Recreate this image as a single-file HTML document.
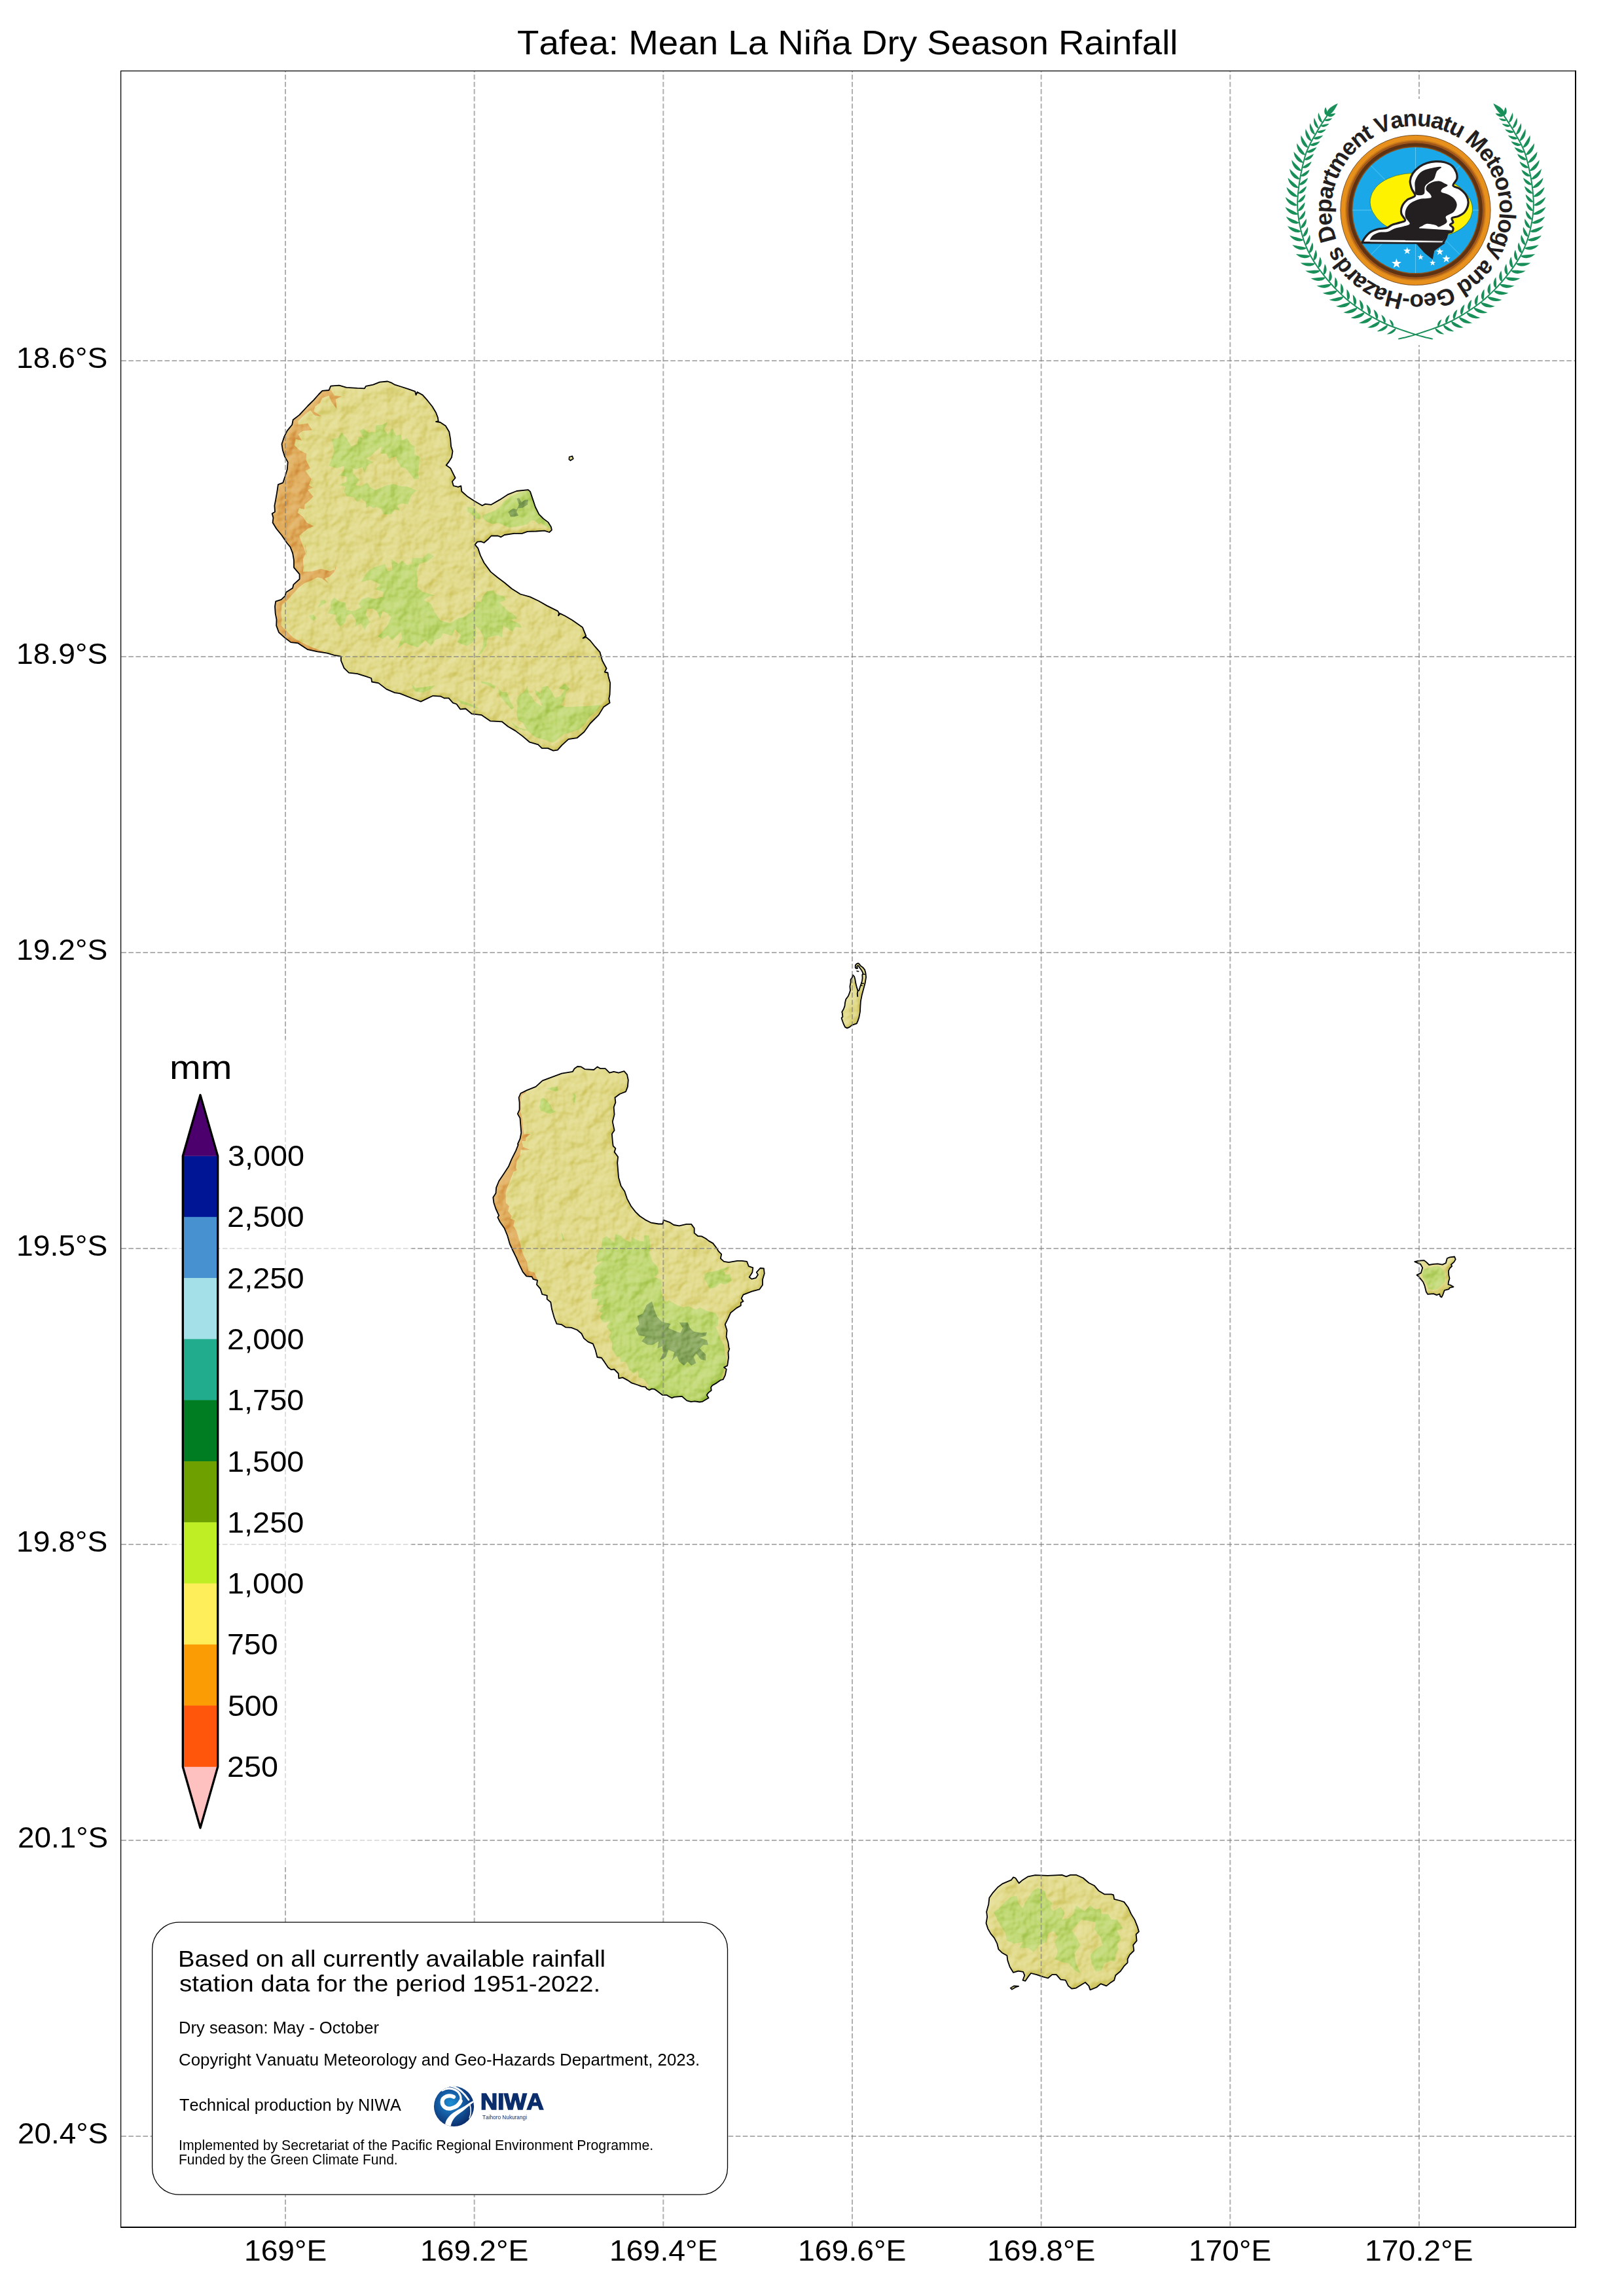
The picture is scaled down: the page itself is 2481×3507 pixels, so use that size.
<!DOCTYPE html>
<html><head><meta charset="utf-8"><title>Tafea: Mean La Ni&ntilde;a Dry Season Rainfall</title>
<style>
html,body{margin:0;padding:0;background:#fff;}
body{width:2481px;height:3507px;position:relative;overflow:hidden;font-family:"Liberation Sans",sans-serif;font-kerning:none;}
.t{position:absolute;white-space:pre;transform-origin:0 0;color:#000;}
svg{position:absolute;left:0;top:0;}
</style></head><body>
<svg width="2481" height="3507" viewBox="0 0 2481 3507" >
<defs>
<filter id="hs" x="-5%" y="-5%" width="110%" height="110%" color-interpolation-filters="sRGB">
<feTurbulence type="fractalNoise" baseFrequency="0.04" numOctaves="3" seed="7" result="n"/>
<feGaussianBlur in="SourceAlpha" stdDeviation="3.5" result="b"/>
<feComposite in="n" in2="b" operator="arithmetic" k1="0" k2="0.6" k3="0.4" k4="0" result="h"/>
<feDiffuseLighting in="h" surfaceScale="8" diffuseConstant="0.72" lighting-color="#ffffff" result="lit"><feDistantLight azimuth="225" elevation="45"/></feDiffuseLighting>
<feBlend in="lit" in2="SourceGraphic" mode="soft-light" result="bl"/>
<feComposite in="bl" in2="SourceGraphic" operator="in"/>
</filter>
<clipPath id="cE"><polygon points="430.5,817.7 422.2,807.5 416.6,798.3 417.5,790.9 415.7,784.4 420.0,781.7 419.4,772.4 421.2,763.2 423.1,752.1 424.9,740.1 432.3,737.3 436.0,726.3 438.8,717.0 439.7,705.9 435.1,697.6 431.8,687.5 430.5,678.2 434.2,667.1 438.8,657.9 446.2,648.7 447.7,641.3 457.3,633.9 470.2,620.0 479.4,610.8 486.8,602.5 492.4,596.9 502.5,596.0 505.3,589.6 518.2,588.6 529.3,591.8 545.9,592.9 557.0,593.3 558.9,589.9 570.0,587.7 580.1,583.6 592.1,582.5 598.6,584.9 603.2,587.7 612.4,590.5 623.5,594.2 634.2,597.9 635.5,603.4 637.4,598.8 645.7,603.4 653.1,611.7 660.5,621.0 666.0,630.2 668.8,637.6 669.7,643.1 666.0,644.1 672.5,645.0 680.8,650.5 686.3,659.8 688.2,670.8 689.1,681.9 691.5,689.3 690.0,698.5 685.4,705.9 681.7,710.6 688.2,715.2 691.9,722.6 695.6,730.0 690.9,735.5 692.8,742.0 700.0,743.8 704.3,742.2 705.3,750.5 713.6,757.9 724.7,765.3 736.7,772.3 741.3,769.9 750.5,770.8 763.4,763.4 776.4,755.1 789.3,750.0 806.9,748.1 810.0,750.9 814.2,763.4 817.9,774.5 823.5,785.6 830.0,792.1 837.3,797.6 842.0,805.0 842.9,809.6 839.2,813.0 831.8,810.6 818.9,811.5 805.9,811.8 797.6,814.8 785.6,814.8 770.8,817.0 765.3,820.3 760.7,818.5 750.5,818.5 745.9,823.5 739.4,829.0 734.8,827.2 729.3,827.7 725.6,831.8 730.2,837.3 733.9,848.4 739.4,859.5 749.6,873.4 759.8,881.7 770.8,890.0 781.9,899.2 794.9,907.5 809.6,911.6 822.6,917.7 835.5,925.1 852.1,933.4 854.0,936.2 853.0,940.4 855.8,937.1 863.2,940.8 874.3,947.3 890.0,958.3 895.2,971.1 890.6,974.8 895.2,973.0 901.7,978.5 909.1,987.7 916.5,996.1 920.1,1009.0 926.6,1021.0 923.8,1026.5 928.5,1027.5 929.4,1033.0 932.2,1043.2 931.6,1060.7 930.3,1067.2 931.6,1073.6 922.0,1080.1 914.6,1092.1 901.7,1105.0 892.4,1118.0 881.4,1127.2 868.4,1129.1 858.3,1138.3 851.8,1145.7 845.3,1146.6 837.0,1142.9 827.8,1142.9 822.2,1137.4 809.3,1133.7 798.2,1124.4 787.1,1116.1 776.1,1109.7 766.8,1102.3 749.3,1101.4 735.4,1092.1 720.6,1090.3 711.4,1082.5 703.1,1083.3 697.5,1075.5 692.0,1073.6 685.5,1066.3 680.0,1066.3 678.9,1066.5 673.4,1063.7 661.4,1062.8 642.9,1071.6 629.1,1066.5 610.6,1059.1 603.2,1058.1 590.3,1052.6 578.3,1043.4 568.1,1041.5 567.2,1036.0 558.9,1033.2 545.9,1029.1 533.0,1027.7 525.6,1020.3 521.0,1009.2 521.0,1002.7 510.8,1000.9 499.8,997.7 485.0,995.3 470.2,992.2 455.4,982.4 444.3,981.1 435.1,974.1 425.9,965.8 422.2,955.6 422.5,946.4 420.7,937.1 420.0,926.1 421.2,918.7 429.6,915.9 435.5,910.4 436.9,904.8 447.1,898.3 448.4,892.8 457.6,884.5 457.6,877.1 449.0,866.9 449.0,855.9 447.1,844.8 443.4,835.5 438.8,830.0"/></clipPath>
<clipPath id="cT"><polygon points="783.4,1910.0 778.8,1900.0 775.1,1887.1 770.5,1876.0 764.0,1866.8 760.3,1859.4 762.2,1856.6 757.5,1846.5 754.4,1837.2 753.3,1828.9 757.5,1822.4 758.1,1814.1 762.2,1804.0 769.6,1792.9 776.9,1781.8 781.6,1770.7 788.0,1757.8 791.7,1748.5 790.8,1747.6 794.5,1739.3 796.3,1730.1 795.4,1719.0 794.5,1707.9 790.8,1701.4 793.6,1695.0 793.6,1683.9 792.6,1676.5 795.4,1670.0 804.7,1665.4 818.5,1659.9 828.7,1650.6 843.4,1645.1 858.2,1639.6 874.9,1636.8 877.6,1632.2 882.2,1629.0 887.8,1629.4 893.3,1633.1 907.2,1634.0 912.7,1629.4 917.3,1632.2 924.7,1632.2 931.2,1638.6 937.7,1636.8 945.0,1638.6 953.4,1636.2 958.0,1641.4 959.8,1649.7 958.9,1659.9 956.1,1667.3 946.9,1671.0 939.5,1676.5 940.4,1683.9 937.7,1691.3 938.6,1702.4 935.8,1713.4 938.6,1726.4 934.9,1731.9 935.8,1743.0 936.7,1750.4 940.4,1754.1 938.6,1759.6 944.1,1767.0 943.2,1776.3 944.1,1787.3 945.0,1798.4 948.7,1811.4 954.3,1819.7 958.0,1830.8 964.4,1842.8 970.9,1851.1 977.4,1857.5 985.7,1863.1 994.9,1867.7 1006.0,1869.5 1012.5,1869.5 1013.6,1863.6 1022.8,1866.8 1029.3,1871.0 1037.6,1872.3 1048.7,1869.9 1056.1,1869.9 1060.7,1876.0 1060.7,1883.4 1066.2,1888.0 1071.8,1888.4 1078.2,1891.7 1082.8,1895.4 1089.3,1899.1 1094.9,1906.5 1097.6,1911.1 1102.2,1915.7 1100.8,1922.2 1105.9,1926.8 1113.3,1928.1 1126.3,1925.9 1133.6,1925.9 1141.0,1926.8 1143.8,1934.2 1150.3,1936.4 1149.3,1943.4 1144.7,1950.8 1148.4,1953.6 1154.9,1951.8 1158.0,1947.1 1155.8,1943.4 1161.4,1937.0 1166.9,1937.5 1167.8,1945.3 1165.0,1954.5 1165.0,1962.8 1160.4,1969.3 1148.4,1972.6 1135.5,1977.6 1132.7,1983.2 1135.5,1987.8 1131.8,1989.6 1131.8,1994.2 1125.3,1997.9 1120.7,2001.6 1116.1,2005.3 1112.4,2013.6 1107.8,2022.9 1110.6,2032.1 1109.6,2041.4 1112.4,2050.6 1113.7,2059.8 1114.4,2060.0 1112.5,2065.5 1113.0,2073.9 1111.2,2085.9 1106.1,2088.6 1109.8,2091.4 1107.9,2100.6 1104.7,2107.1 1101.0,2108.0 1094.5,2112.6 1088.1,2116.3 1086.2,2119.1 1086.7,2123.7 1082.1,2127.4 1079.8,2130.7 1082.5,2135.3 1077.9,2138.0 1073.3,2140.8 1068.7,2141.5 1061.3,2140.4 1055.7,2141.1 1049.3,2139.4 1044.7,2135.3 1041.9,2132.8 1035.4,2133.4 1029.9,2133.9 1026.2,2135.3 1022.0,2133.0 1018.8,2130.9 1012.3,2130.9 1008.6,2128.3 1004.0,2124.7 999.9,2121.9 995.7,2121.4 992.0,2123.3 987.9,2121.0 986.5,2118.7 980.0,2117.7 974.3,2115.5 965.0,2112.4 958.6,2108.1 951.2,2104.1 945.3,2105.4 944.7,2098.0 938.3,2091.5 933.6,2092.1 929.0,2088.7 923.5,2080.4 918.9,2074.0 912.4,2073.0 909.6,2062.0 905.9,2052.7 898.5,2049.6 892.1,2044.4 888.4,2037.0 881.9,2031.5 872.7,2027.8 864.4,2027.4 857.9,2023.2 850.5,2022.2 846.8,2013.0 843.1,2000.1 841.3,1989.0 835.7,1984.4 835.7,1978.8 828.3,1977.0 825.6,1968.7 820.0,1962.2 821.0,1955.7 814.5,1953.9 812.6,1950.2 804.3,1949.3 798.8,1942.8 793.3,1931.7 788.6,1920.6"/></clipPath>
<clipPath id="cA"><polygon points="1506.5,2937.5 1508.2,2927.8 1507.1,2920.2 1510.3,2908.4 1511.4,2898.7 1516.8,2891.1 1524.4,2882.5 1531.9,2877.1 1544.8,2871.7 1548.1,2867.4 1551.3,2868.5 1556.7,2876.5 1562.1,2871.7 1570.7,2866.3 1581.5,2864.2 1600.9,2864.8 1622.4,2863.8 1628.9,2866.3 1635.3,2863.8 1644.0,2863.8 1654.7,2868.5 1663.4,2876.0 1672.0,2880.3 1678.4,2887.9 1687.1,2893.3 1697.8,2893.3 1701.1,2894.4 1702.2,2900.8 1710.8,2903.0 1717.2,2905.1 1723.7,2913.8 1728.0,2923.4 1733.4,2932.1 1737.7,2942.8 1739.9,2950.4 1735.6,2954.7 1736.6,2964.4 1731.2,2970.9 1732.3,2979.5 1725.9,2985.9 1722.6,2992.4 1722.6,2997.8 1717.2,3003.2 1711.9,3010.7 1704.3,3017.2 1702.2,3024.7 1695.7,3029.1 1690.3,3033.4 1681.7,3030.1 1675.2,3035.5 1665.5,3039.4 1663.4,3033.4 1658.0,3028.0 1652.6,3031.2 1644.0,3036.6 1637.5,3037.7 1632.1,3033.4 1627.8,3024.7 1620.3,3023.7 1613.8,3016.1 1607.3,3016.1 1600.9,3021.5 1593.3,3019.4 1583.6,3016.1 1575.0,3014.0 1570.7,3019.4 1566.4,3025.8 1562.5,3024.7 1565.3,3017.2 1563.1,3011.8 1555.6,3010.7 1548.1,3012.9 1542.7,3004.3 1539.4,2994.6 1538.4,2987.0 1530.8,2982.7 1525.4,2977.3 1523.3,2968.7 1519.0,2960.1 1513.6,2953.6 1509.3,2946.1"/></clipPath>
<clipPath id="cF"><polygon points="2161.2,1927.2 2168.4,1925.6 2175.6,1925.1 2179.6,1928.4 2183.2,1932.0 2190.0,1930.8 2196.4,1930.3 2203.6,1931.6 2208.8,1929.2 2210.8,1922.0 2214.9,1920.4 2222.1,1919.5 2223.7,1923.6 2221.3,1927.6 2216.9,1931.6 2218.1,1934.0 2214.9,1937.2 2212.9,1941.2 2213.3,1947.6 2214.5,1952.4 2212.9,1958.0 2212.5,1962.0 2216.5,1963.2 2220.5,1965.6 2214.9,1966.8 2213.3,1969.2 2206.8,1970.8 2204.4,1977.3 2202.4,1981.3 2200.4,1980.5 2199.2,1976.5 2194.8,1978.1 2190.0,1976.1 2181.2,1976.9 2178.8,1973.3 2176.4,1963.6 2174.0,1958.0 2170.0,1953.2 2167.6,1950.0 2164.4,1947.6 2170.8,1944.4 2173.2,1936.4 2170.0,1930.8 2165.2,1928.8"/></clipPath>
<clipPath id="cW"><polygon points="1302.7,1489.0 1305.1,1491.5 1306.3,1495.7 1307.3,1501.8 1308.8,1507.9 1310.6,1513.4 1312.4,1512.8 1314.0,1507.3 1315.5,1503.0 1317.0,1498.2 1317.6,1493.9 1317.3,1489.0 1318.5,1486.6 1316.4,1482.3 1313.7,1478.7 1312.4,1476.8 1311.2,1475.1 1309.9,1475.1 1309.1,1476.8 1310.1,1479.0 1308.2,1479.4 1306.7,1478.0 1306.8,1474.4 1308.5,1472.3 1310.9,1471.3 1313.0,1472.7 1314.7,1475.3 1317.9,1477.4 1321.0,1481.1 1322.5,1486.6 1323.1,1492.7 1321.6,1501.8 1319.1,1511.0 1316.7,1520.1 1314.9,1529.3 1314.3,1538.4 1314.0,1545.1 1312.4,1553.7 1310.6,1559.1 1308.8,1563.4 1305.1,1564.6 1301.5,1565.9 1297.8,1568.9 1294.1,1570.4 1291.1,1568.9 1288.7,1564.0 1287.1,1559.8 1285.6,1554.9 1287.4,1553.0 1286.8,1547.6 1286.2,1545.7 1288.7,1541.5 1290.5,1536.6 1291.1,1531.1 1292.3,1526.2 1296.0,1521.3 1297.8,1516.5 1299.0,1512.8 1298.4,1506.7 1299.6,1500.6 1299.6,1496.3 1302.1,1492.7"/></clipPath><radialGradient id="ng" cx="0.42" cy="0.42" r="0.62"><stop offset="0" stop-color="#1d8fd4"/><stop offset="0.45" stop-color="#1560a8"/><stop offset="1" stop-color="#0b2a68"/></radialGradient>
<clipPath id="nc"><circle cx="693.5" cy="3217.4" r="30.6"/></clipPath>
</defs>
<g filter="url(#hs)"><g clip-path="url(#cE)">
<polygon points="430.5,817.7 422.2,807.5 416.6,798.3 417.5,790.9 415.7,784.4 420.0,781.7 419.4,772.4 421.2,763.2 423.1,752.1 424.9,740.1 432.3,737.3 436.0,726.3 438.8,717.0 439.7,705.9 435.1,697.6 431.8,687.5 430.5,678.2 434.2,667.1 438.8,657.9 446.2,648.7 447.7,641.3 457.3,633.9 470.2,620.0 479.4,610.8 486.8,602.5 492.4,596.9 502.5,596.0 505.3,589.6 518.2,588.6 529.3,591.8 545.9,592.9 557.0,593.3 558.9,589.9 570.0,587.7 580.1,583.6 592.1,582.5 598.6,584.9 603.2,587.7 612.4,590.5 623.5,594.2 634.2,597.9 635.5,603.4 637.4,598.8 645.7,603.4 653.1,611.7 660.5,621.0 666.0,630.2 668.8,637.6 669.7,643.1 666.0,644.1 672.5,645.0 680.8,650.5 686.3,659.8 688.2,670.8 689.1,681.9 691.5,689.3 690.0,698.5 685.4,705.9 681.7,710.6 688.2,715.2 691.9,722.6 695.6,730.0 690.9,735.5 692.8,742.0 700.0,743.8 704.3,742.2 705.3,750.5 713.6,757.9 724.7,765.3 736.7,772.3 741.3,769.9 750.5,770.8 763.4,763.4 776.4,755.1 789.3,750.0 806.9,748.1 810.0,750.9 814.2,763.4 817.9,774.5 823.5,785.6 830.0,792.1 837.3,797.6 842.0,805.0 842.9,809.6 839.2,813.0 831.8,810.6 818.9,811.5 805.9,811.8 797.6,814.8 785.6,814.8 770.8,817.0 765.3,820.3 760.7,818.5 750.5,818.5 745.9,823.5 739.4,829.0 734.8,827.2 729.3,827.7 725.6,831.8 730.2,837.3 733.9,848.4 739.4,859.5 749.6,873.4 759.8,881.7 770.8,890.0 781.9,899.2 794.9,907.5 809.6,911.6 822.6,917.7 835.5,925.1 852.1,933.4 854.0,936.2 853.0,940.4 855.8,937.1 863.2,940.8 874.3,947.3 890.0,958.3 895.2,971.1 890.6,974.8 895.2,973.0 901.7,978.5 909.1,987.7 916.5,996.1 920.1,1009.0 926.6,1021.0 923.8,1026.5 928.5,1027.5 929.4,1033.0 932.2,1043.2 931.6,1060.7 930.3,1067.2 931.6,1073.6 922.0,1080.1 914.6,1092.1 901.7,1105.0 892.4,1118.0 881.4,1127.2 868.4,1129.1 858.3,1138.3 851.8,1145.7 845.3,1146.6 837.0,1142.9 827.8,1142.9 822.2,1137.4 809.3,1133.7 798.2,1124.4 787.1,1116.1 776.1,1109.7 766.8,1102.3 749.3,1101.4 735.4,1092.1 720.6,1090.3 711.4,1082.5 703.1,1083.3 697.5,1075.5 692.0,1073.6 685.5,1066.3 680.0,1066.3 678.9,1066.5 673.4,1063.7 661.4,1062.8 642.9,1071.6 629.1,1066.5 610.6,1059.1 603.2,1058.1 590.3,1052.6 578.3,1043.4 568.1,1041.5 567.2,1036.0 558.9,1033.2 545.9,1029.1 533.0,1027.7 525.6,1020.3 521.0,1009.2 521.0,1002.7 510.8,1000.9 499.8,997.7 485.0,995.3 470.2,992.2 455.4,982.4 444.3,981.1 435.1,974.1 425.9,965.8 422.2,955.6 422.5,946.4 420.7,937.1 420.0,926.1 421.2,918.7 429.6,915.9 435.5,910.4 436.9,904.8 447.1,898.3 448.4,892.8 457.6,884.5 457.6,877.1 449.0,866.9 449.0,855.9 447.1,844.8 443.4,835.5 438.8,830.0" fill="#e1da8b"/>
<polygon points="506.2,596.9 510.8,604.3 521.9,605.3 512.7,609.9 514.5,624.7 506.2,613.6 502.5,604.3 492.4,608.0 488.7,615.4 481.3,621.0 479.4,628.3 490.5,635.7 481.3,634.8 473.9,626.5 464.7,633.9 455.4,643.1 455.4,648.7 470.2,646.8 476.7,657.0 462.8,657.9 455.4,663.4 461.0,672.7 451.7,670.8 449.9,680.1 457.3,687.5 468.3,693.0 467.4,702.2 473.9,715.2 466.5,718.9 475.7,731.8 472.0,741.0 477.6,744.7 470.2,748.4 478.5,758.6 472.0,765.0 465.6,770.6 464.7,778.0 457.3,776.1 454.5,783.5 462.8,789.1 468.3,798.3 479.4,803.8 470.2,807.5 461.0,814.9 457.3,818.6 461.0,829.7 465.6,840.8 468.3,851.9 465.6,830.0 468.3,842.9 462.8,854.0 463.7,866.9 462.8,873.4 477.6,872.5 490.5,868.8 503.4,872.5 512.7,869.7 513.6,862.3 510.8,873.4 503.4,880.8 496.1,883.6 502.5,891.9 492.4,883.6 485.0,881.7 473.9,887.3 464.7,891.0 455.4,898.3 447.1,907.6 439.7,915.9 430.5,924.2 429.6,935.3 430.5,946.4 429.6,955.6 436.9,963.0 448.0,974.1 461.0,981.5 477.6,988.9 492.4,994.4 503.4,999.0 500.0,1010.0 395.0,1010.0 395.0,580.0 500.0,580.0" fill="#dfab5b"/>
<polygon points="502.5,711.5 508.1,696.7 510.8,689.3 507.1,670.8 516.4,669.0 521.9,660.7 529.3,669.0 536.7,681.9 545.9,678.2 547.8,667.1 555.2,669.0 549.6,657.9 555.2,654.2 562.6,660.7 573.6,659.8 574.6,649.6 584.7,648.7 592.1,645.0 586.6,656.1 592.1,663.4 599.5,654.2 605.0,665.3 612.4,663.4 614.3,672.7 621.7,669.0 627.2,678.2 633.7,681.9 632.8,693.0 641.1,698.5 640.1,713.3 638.3,722.6 640.1,731.8 632.8,731.8 625.4,722.6 619.8,715.2 612.4,713.3 606.9,704.1 605.0,696.7 594.0,700.4 590.3,693.0 581.0,693.0 582.9,681.9 573.6,689.3 566.3,696.7 558.9,700.4 570.0,705.9 560.7,711.5 557.0,722.6 553.3,713.3 544.1,717.0 538.5,715.2 540.4,724.4 549.6,733.6 542.2,741.0 551.5,742.9 560.7,737.3 566.3,744.7 573.6,748.4 582.9,744.7 592.1,741.0 601.4,739.2 612.4,742.9 621.7,742.9 636.5,749.3 629.1,755.8 625.4,763.2 623.5,770.6 612.4,768.7 606.9,772.4 610.6,779.8 603.2,778.0 597.7,785.4 586.6,785.4 582.9,778.0 575.5,774.3 570.0,776.1 564.4,772.4 558.9,776.1 558.9,766.9 551.5,761.4 545.9,766.9 540.4,759.5 529.3,757.7 525.6,750.3 527.5,742.9 518.2,741.0 529.3,735.5 529.3,728.1 518.2,726.3 525.6,718.9 525.6,711.5 514.5,715.2 509.0,713.3" fill="#c0d873"/>
<polygon points="551.5,889.1 560.7,874.3 570.0,866.9 588.4,861.4 592.1,872.5 599.5,870.6 597.7,854.0 608.7,861.4 614.3,855.9 621.7,863.3 629.1,861.4 630.0,852.2 645.7,852.2 654.9,844.8 663.2,849.4 653.1,857.7 640.1,861.4 636.5,874.3 638.3,885.4 636.5,896.5 645.7,903.9 664.2,909.4 654.9,911.3 647.5,916.8 658.6,922.4 664.2,935.3 673.4,948.2 688.2,951.9 691.1,949.9 700.3,944.3 709.6,942.5 724.3,931.4 728.0,918.5 735.4,920.3 737.3,911.1 744.7,902.8 753.9,901.8 757.6,907.4 770.5,911.1 772.4,916.6 763.1,920.3 776.1,933.3 787.1,940.6 789.9,945.3 779.8,946.2 794.5,953.6 797.3,959.1 787.1,957.3 783.4,964.7 768.7,955.4 766.8,973.9 761.3,970.2 752.0,972.0 744.7,973.9 742.8,986.8 735.4,997.9 729.9,1001.6 737.3,988.7 739.1,973.9 733.6,962.8 726.2,955.4 727.1,970.2 722.5,981.3 713.3,986.8 698.5,981.3 704.0,970.2 694.8,961.0 691.1,970.2 688.2,970.4 677.1,966.7 673.4,974.1 664.2,977.8 658.6,987.0 649.4,977.8 638.3,988.9 627.2,985.2 618.0,981.5 606.9,990.7 614.3,974.1 612.4,964.9 599.5,977.8 592.1,970.4 584.7,975.9 577.3,972.2 592.1,955.6 597.7,942.7 592.1,937.1 584.7,933.4 581.0,944.5 575.5,933.4 570.0,929.8 560.7,929.8 558.9,939.0 565.3,950.1 560.7,955.6 557.0,963.0 551.5,951.9 542.2,957.5 544.1,948.2 536.7,937.1 529.3,940.8 527.5,950.1 520.1,957.5 512.7,948.2 512.7,939.0 500.7,937.1 505.3,927.9 505.3,918.7 510.8,913.1 518.2,918.7 527.5,920.5 529.3,931.6 540.4,933.4 551.5,927.9 547.8,922.4 553.3,915.0 562.6,912.2 573.6,915.0 584.7,911.3 586.6,903.9 573.6,900.2 581.0,892.8 566.3,885.4" fill="#c0d873"/>
<polygon points="789.0,1092.1 790.8,1077.3 789.0,1070.0 792.7,1062.6 801.9,1055.2 805.6,1047.8 807.5,1058.9 813.0,1064.4 816.7,1071.8 827.8,1079.2 825.9,1070.0 818.5,1060.7 816.7,1053.3 825.9,1058.9 827.8,1049.6 837.0,1047.8 842.6,1057.0 848.1,1066.3 857.3,1062.6 862.9,1053.3 853.6,1051.5 862.9,1044.1 870.3,1051.5 864.7,1057.0 862.9,1066.3 857.3,1077.3 864.7,1080.1 883.2,1079.2 901.7,1078.3 918.3,1076.4 912.8,1084.7 899.8,1095.8 894.3,1105.0 885.0,1114.3 874.0,1118.0 861.0,1121.7 850.0,1130.9 844.4,1134.6 831.5,1130.0 816.7,1125.4 805.6,1116.1 798.2,1103.2 792.7,1101.4" fill="#c0d873"/>
<polygon points="761.3,1051.5 766.8,1057.0 774.2,1057.0 779.8,1071.8 785.3,1081.0 781.6,1083.8 772.4,1073.6 763.1,1062.6" fill="#c0d873"/>
<polygon points="734.5,1040.4 746.5,1042.2 756.7,1047.8 755.7,1052.4 744.7,1045.9 735.4,1043.2" fill="#c0d873"/>
<polygon points="698.5,1068.1 709.6,1071.8 724.3,1077.3 731.7,1082.9 722.5,1080.1 704.0,1074.6" fill="#c0d873"/>
<polygon points="779.8,1101.4 790.8,1110.6 805.6,1115.2 800.1,1116.1 787.1,1110.6" fill="#c0d873"/>
<polygon points="736.7,787.5 741.3,785.6 756.1,780.1 765.3,772.7 770.8,765.3 780.1,757.9 793.0,752.4 805.9,749.6 809.6,752.4 814.2,765.3 818.9,778.2 824.4,787.5 831.8,794.9 840.1,803.2 842.0,807.8 833.6,804.1 826.3,798.5 822.6,800.4 817.0,794.9 811.5,794.9 805.9,800.4 793.0,804.1 778.2,805.9 769.0,802.2 761.6,798.5 752.4,800.4 743.1,796.7 737.6,791.2" fill="#c0d873"/>
<polygon points="713.6,773.6 719.1,775.5 723.7,774.5 728.3,781.9 734.8,787.5 733.0,793.0 726.5,792.1 721.0,785.6 714.5,781.9" fill="#c0d873"/>
<polygon points="629.1,1045.2 634.6,1050.8 645.7,1049.8 664.2,1047.1 658.6,1052.6 645.7,1058.1 634.6,1056.3 630.9,1051.7" fill="#c0d873"/>
<polygon points="472.0,939.9 479.4,939.0 483.1,944.5 479.4,948.2 473.9,944.5" fill="#c0d873"/>
<polygon points="490.5,916.8 496.1,915.9 497.9,920.5 490.5,925.1 485.0,928.8 488.7,922.4" fill="#c0d873"/>
<polygon points="776.4,781.9 783.8,776.4 789.3,778.2 793.0,770.8 789.3,761.6 793.0,760.7 796.7,767.1 802.2,763.4 806.9,763.4 805.9,770.8 798.5,775.5 791.2,776.4 789.3,781.9 792.1,787.5 785.6,789.3 780.1,789.3" fill="#8aa85f"/>
</g></g>
<polygon points="430.5,817.7 422.2,807.5 416.6,798.3 417.5,790.9 415.7,784.4 420.0,781.7 419.4,772.4 421.2,763.2 423.1,752.1 424.9,740.1 432.3,737.3 436.0,726.3 438.8,717.0 439.7,705.9 435.1,697.6 431.8,687.5 430.5,678.2 434.2,667.1 438.8,657.9 446.2,648.7 447.7,641.3 457.3,633.9 470.2,620.0 479.4,610.8 486.8,602.5 492.4,596.9 502.5,596.0 505.3,589.6 518.2,588.6 529.3,591.8 545.9,592.9 557.0,593.3 558.9,589.9 570.0,587.7 580.1,583.6 592.1,582.5 598.6,584.9 603.2,587.7 612.4,590.5 623.5,594.2 634.2,597.9 635.5,603.4 637.4,598.8 645.7,603.4 653.1,611.7 660.5,621.0 666.0,630.2 668.8,637.6 669.7,643.1 666.0,644.1 672.5,645.0 680.8,650.5 686.3,659.8 688.2,670.8 689.1,681.9 691.5,689.3 690.0,698.5 685.4,705.9 681.7,710.6 688.2,715.2 691.9,722.6 695.6,730.0 690.9,735.5 692.8,742.0 700.0,743.8 704.3,742.2 705.3,750.5 713.6,757.9 724.7,765.3 736.7,772.3 741.3,769.9 750.5,770.8 763.4,763.4 776.4,755.1 789.3,750.0 806.9,748.1 810.0,750.9 814.2,763.4 817.9,774.5 823.5,785.6 830.0,792.1 837.3,797.6 842.0,805.0 842.9,809.6 839.2,813.0 831.8,810.6 818.9,811.5 805.9,811.8 797.6,814.8 785.6,814.8 770.8,817.0 765.3,820.3 760.7,818.5 750.5,818.5 745.9,823.5 739.4,829.0 734.8,827.2 729.3,827.7 725.6,831.8 730.2,837.3 733.9,848.4 739.4,859.5 749.6,873.4 759.8,881.7 770.8,890.0 781.9,899.2 794.9,907.5 809.6,911.6 822.6,917.7 835.5,925.1 852.1,933.4 854.0,936.2 853.0,940.4 855.8,937.1 863.2,940.8 874.3,947.3 890.0,958.3 895.2,971.1 890.6,974.8 895.2,973.0 901.7,978.5 909.1,987.7 916.5,996.1 920.1,1009.0 926.6,1021.0 923.8,1026.5 928.5,1027.5 929.4,1033.0 932.2,1043.2 931.6,1060.7 930.3,1067.2 931.6,1073.6 922.0,1080.1 914.6,1092.1 901.7,1105.0 892.4,1118.0 881.4,1127.2 868.4,1129.1 858.3,1138.3 851.8,1145.7 845.3,1146.6 837.0,1142.9 827.8,1142.9 822.2,1137.4 809.3,1133.7 798.2,1124.4 787.1,1116.1 776.1,1109.7 766.8,1102.3 749.3,1101.4 735.4,1092.1 720.6,1090.3 711.4,1082.5 703.1,1083.3 697.5,1075.5 692.0,1073.6 685.5,1066.3 680.0,1066.3 678.9,1066.5 673.4,1063.7 661.4,1062.8 642.9,1071.6 629.1,1066.5 610.6,1059.1 603.2,1058.1 590.3,1052.6 578.3,1043.4 568.1,1041.5 567.2,1036.0 558.9,1033.2 545.9,1029.1 533.0,1027.7 525.6,1020.3 521.0,1009.2 521.0,1002.7 510.8,1000.9 499.8,997.7 485.0,995.3 470.2,992.2 455.4,982.4 444.3,981.1 435.1,974.1 425.9,965.8 422.2,955.6 422.5,946.4 420.7,937.1 420.0,926.1 421.2,918.7 429.6,915.9 435.5,910.4 436.9,904.8 447.1,898.3 448.4,892.8 457.6,884.5 457.6,877.1 449.0,866.9 449.0,855.9 447.1,844.8 443.4,835.5 438.8,830.0" fill="none" stroke="#000" stroke-width="1.8" stroke-linejoin="round"/>
<polygon points="869.7,697.9 874.3,696.6 875.8,700.6 871.5,703.4 869.3,701.6" fill="#e1da8b" stroke="#000" stroke-width="1.6"/>
<g filter="url(#hs)"><g clip-path="url(#cT)">
<polygon points="783.4,1910.0 778.8,1900.0 775.1,1887.1 770.5,1876.0 764.0,1866.8 760.3,1859.4 762.2,1856.6 757.5,1846.5 754.4,1837.2 753.3,1828.9 757.5,1822.4 758.1,1814.1 762.2,1804.0 769.6,1792.9 776.9,1781.8 781.6,1770.7 788.0,1757.8 791.7,1748.5 790.8,1747.6 794.5,1739.3 796.3,1730.1 795.4,1719.0 794.5,1707.9 790.8,1701.4 793.6,1695.0 793.6,1683.9 792.6,1676.5 795.4,1670.0 804.7,1665.4 818.5,1659.9 828.7,1650.6 843.4,1645.1 858.2,1639.6 874.9,1636.8 877.6,1632.2 882.2,1629.0 887.8,1629.4 893.3,1633.1 907.2,1634.0 912.7,1629.4 917.3,1632.2 924.7,1632.2 931.2,1638.6 937.7,1636.8 945.0,1638.6 953.4,1636.2 958.0,1641.4 959.8,1649.7 958.9,1659.9 956.1,1667.3 946.9,1671.0 939.5,1676.5 940.4,1683.9 937.7,1691.3 938.6,1702.4 935.8,1713.4 938.6,1726.4 934.9,1731.9 935.8,1743.0 936.7,1750.4 940.4,1754.1 938.6,1759.6 944.1,1767.0 943.2,1776.3 944.1,1787.3 945.0,1798.4 948.7,1811.4 954.3,1819.7 958.0,1830.8 964.4,1842.8 970.9,1851.1 977.4,1857.5 985.7,1863.1 994.9,1867.7 1006.0,1869.5 1012.5,1869.5 1013.6,1863.6 1022.8,1866.8 1029.3,1871.0 1037.6,1872.3 1048.7,1869.9 1056.1,1869.9 1060.7,1876.0 1060.7,1883.4 1066.2,1888.0 1071.8,1888.4 1078.2,1891.7 1082.8,1895.4 1089.3,1899.1 1094.9,1906.5 1097.6,1911.1 1102.2,1915.7 1100.8,1922.2 1105.9,1926.8 1113.3,1928.1 1126.3,1925.9 1133.6,1925.9 1141.0,1926.8 1143.8,1934.2 1150.3,1936.4 1149.3,1943.4 1144.7,1950.8 1148.4,1953.6 1154.9,1951.8 1158.0,1947.1 1155.8,1943.4 1161.4,1937.0 1166.9,1937.5 1167.8,1945.3 1165.0,1954.5 1165.0,1962.8 1160.4,1969.3 1148.4,1972.6 1135.5,1977.6 1132.7,1983.2 1135.5,1987.8 1131.8,1989.6 1131.8,1994.2 1125.3,1997.9 1120.7,2001.6 1116.1,2005.3 1112.4,2013.6 1107.8,2022.9 1110.6,2032.1 1109.6,2041.4 1112.4,2050.6 1113.7,2059.8 1114.4,2060.0 1112.5,2065.5 1113.0,2073.9 1111.2,2085.9 1106.1,2088.6 1109.8,2091.4 1107.9,2100.6 1104.7,2107.1 1101.0,2108.0 1094.5,2112.6 1088.1,2116.3 1086.2,2119.1 1086.7,2123.7 1082.1,2127.4 1079.8,2130.7 1082.5,2135.3 1077.9,2138.0 1073.3,2140.8 1068.7,2141.5 1061.3,2140.4 1055.7,2141.1 1049.3,2139.4 1044.7,2135.3 1041.9,2132.8 1035.4,2133.4 1029.9,2133.9 1026.2,2135.3 1022.0,2133.0 1018.8,2130.9 1012.3,2130.9 1008.6,2128.3 1004.0,2124.7 999.9,2121.9 995.7,2121.4 992.0,2123.3 987.9,2121.0 986.5,2118.7 980.0,2117.7 974.3,2115.5 965.0,2112.4 958.6,2108.1 951.2,2104.1 945.3,2105.4 944.7,2098.0 938.3,2091.5 933.6,2092.1 929.0,2088.7 923.5,2080.4 918.9,2074.0 912.4,2073.0 909.6,2062.0 905.9,2052.7 898.5,2049.6 892.1,2044.4 888.4,2037.0 881.9,2031.5 872.7,2027.8 864.4,2027.4 857.9,2023.2 850.5,2022.2 846.8,2013.0 843.1,2000.1 841.3,1989.0 835.7,1984.4 835.7,1978.8 828.3,1977.0 825.6,1968.7 820.0,1962.2 821.0,1955.7 814.5,1953.9 812.6,1950.2 804.3,1949.3 798.8,1942.8 793.3,1931.7 788.6,1920.6" fill="#e1da8b"/>
<polygon points="803.7,1669.1 797.3,1672.8 795.4,1683.9 795.4,1698.7 798.2,1709.8 799.1,1724.5 801.0,1732.8 810.2,1731.9 803.7,1737.5 802.8,1743.0 797.3,1743.0 799.1,1752.2 810.2,1755.9 802.8,1756.9 795.4,1755.9 794.5,1765.2 789.9,1772.6 788.0,1783.6 789.9,1787.3 784.3,1790.1 779.7,1802.1 775.1,1813.2 772.3,1822.4 772.9,1837.2 777.9,1842.8 776.0,1850.1 781.6,1857.5 779.7,1861.2 786.2,1864.0 784.3,1872.3 789.0,1879.7 792.6,1892.6 795.4,1903.7 794.2,1891.1 796.0,1905.9 799.7,1916.9 805.3,1928.0 807.1,1941.0 816.3,1943.7 821.0,1953.9 800.0,1990.0 735.0,1990.0 735.0,1650.0 800.0,1650.0" fill="#dfab5b"/>
<polygon points="920.7,1891.1 927.2,1888.3 933.6,1893.9 938.3,1898.5 940.1,1885.5 946.6,1886.5 955.8,1894.8 964.1,1897.5 965.0,1889.2 974.3,1894.8 983.5,1896.6 984.4,1886.5 991.8,1887.4 993.3,1901.0 992.3,1913.9 996.9,1926.8 1005.3,1936.1 1006.2,1945.3 999.7,1950.8 1009.9,1954.5 1011.7,1965.6 1009.9,1969.3 1012.6,1980.4 1017.3,1989.6 1021.9,1985.9 1033.9,1993.3 1043.1,1997.0 1052.4,1995.2 1063.4,2000.7 1069.0,1997.0 1080.1,2002.6 1093.0,2005.3 1097.6,2013.6 1096.7,2024.7 1093.0,2026.6 1097.6,2035.8 1100.4,2045.0 1105.9,2054.3 1107.8,2067.2 1109.6,2078.3 1107.8,2087.5 1104.1,2098.6 1102.2,2106.0 1100.4,2111.6 1126.3,2117.1 1089.3,2154.0 981.7,2138.6 990.9,2116.5 983.5,2106.3 975.2,2103.5 974.3,2092.4 968.7,2098.0 961.4,2092.4 955.8,2079.5 948.4,2080.4 946.6,2072.1 942.0,2072.1 934.6,2059.2 935.5,2051.8 930.9,2042.6 933.6,2035.2 926.3,2025.9 931.8,2018.5 922.6,2020.4 916.1,2012.1 920.7,2005.6 914.2,2001.9 922.6,1992.7 912.4,1994.5 913.3,1983.4 904.1,1984.4 903.2,1971.4 917.0,1961.3 905.9,1961.3 911.5,1950.2 905.9,1943.7 909.6,1935.4 920.7,1926.2 912.4,1928.0 910.6,1918.8 918.9,1904.0 920.7,1891.1" fill="#c0d873"/>
<polygon points="1076.4,1946.2 1081.9,1943.4 1093.0,1941.6 1105.9,1937.0 1116.1,1935.1 1105.9,1940.7 1107.8,1947.1 1115.2,1946.2 1117.9,1956.4 1107.8,1961.9 1100.4,1960.1 1093.0,1966.5 1083.8,1968.4 1080.1,1960.1 1076.4,1954.5" fill="#c0d873"/>
<polygon points="824.1,1689.4 826.8,1678.3 830.5,1676.5 836.1,1682.0 840.7,1687.6 843.4,1695.0 849.9,1697.7 839.8,1701.4 832.4,1698.7 825.9,1695.9" fill="#c0d873"/>
<polygon points="834.2,1662.6 843.4,1660.8 851.8,1659.5 852.7,1665.4 849.0,1667.3 840.7,1664.5" fill="#c0d873"/>
<polygon points="875.8,1669.1 879.5,1672.8 878.5,1683.9 875.8,1684.8 876.3,1676.5" fill="#c0d873"/>
<polygon points="857.0,1881.8 859.8,1885.5 862.5,1894.8 859.8,1893.9 857.9,1887.4" fill="#c0d873"/>
<polygon points="971.1,2028.4 976.6,2022.9 973.9,2010.0 982.2,2006.3 987.7,1993.3 996.0,1987.8 999.7,2000.7 1004.3,2011.8 1011.7,2019.2 1024.7,2022.0 1021.0,2028.4 1033.9,2034.0 1039.4,2035.8 1043.1,2028.4 1037.6,2020.1 1050.5,2020.1 1054.2,2028.4 1059.8,2034.0 1070.8,2035.8 1080.1,2034.9 1078.2,2040.4 1069.0,2043.2 1080.1,2046.9 1081.9,2054.3 1074.5,2054.3 1069.0,2059.8 1078.2,2069.1 1078.2,2078.3 1070.8,2076.5 1063.4,2067.2 1059.8,2072.8 1063.4,2082.0 1056.1,2085.7 1050.5,2080.1 1045.0,2085.7 1037.6,2080.1 1033.9,2070.9 1026.5,2078.3 1030.2,2065.4 1021.0,2061.7 1017.3,2072.8 1008.0,2077.4 1013.6,2065.4 1011.7,2056.1 1004.3,2059.8 1006.2,2048.7 996.9,2054.3 989.6,2054.3 980.3,2048.7 985.9,2041.4 975.7,2039.5" fill="#8aa85f"/>
</g></g>
<polygon points="783.4,1910.0 778.8,1900.0 775.1,1887.1 770.5,1876.0 764.0,1866.8 760.3,1859.4 762.2,1856.6 757.5,1846.5 754.4,1837.2 753.3,1828.9 757.5,1822.4 758.1,1814.1 762.2,1804.0 769.6,1792.9 776.9,1781.8 781.6,1770.7 788.0,1757.8 791.7,1748.5 790.8,1747.6 794.5,1739.3 796.3,1730.1 795.4,1719.0 794.5,1707.9 790.8,1701.4 793.6,1695.0 793.6,1683.9 792.6,1676.5 795.4,1670.0 804.7,1665.4 818.5,1659.9 828.7,1650.6 843.4,1645.1 858.2,1639.6 874.9,1636.8 877.6,1632.2 882.2,1629.0 887.8,1629.4 893.3,1633.1 907.2,1634.0 912.7,1629.4 917.3,1632.2 924.7,1632.2 931.2,1638.6 937.7,1636.8 945.0,1638.6 953.4,1636.2 958.0,1641.4 959.8,1649.7 958.9,1659.9 956.1,1667.3 946.9,1671.0 939.5,1676.5 940.4,1683.9 937.7,1691.3 938.6,1702.4 935.8,1713.4 938.6,1726.4 934.9,1731.9 935.8,1743.0 936.7,1750.4 940.4,1754.1 938.6,1759.6 944.1,1767.0 943.2,1776.3 944.1,1787.3 945.0,1798.4 948.7,1811.4 954.3,1819.7 958.0,1830.8 964.4,1842.8 970.9,1851.1 977.4,1857.5 985.7,1863.1 994.9,1867.7 1006.0,1869.5 1012.5,1869.5 1013.6,1863.6 1022.8,1866.8 1029.3,1871.0 1037.6,1872.3 1048.7,1869.9 1056.1,1869.9 1060.7,1876.0 1060.7,1883.4 1066.2,1888.0 1071.8,1888.4 1078.2,1891.7 1082.8,1895.4 1089.3,1899.1 1094.9,1906.5 1097.6,1911.1 1102.2,1915.7 1100.8,1922.2 1105.9,1926.8 1113.3,1928.1 1126.3,1925.9 1133.6,1925.9 1141.0,1926.8 1143.8,1934.2 1150.3,1936.4 1149.3,1943.4 1144.7,1950.8 1148.4,1953.6 1154.9,1951.8 1158.0,1947.1 1155.8,1943.4 1161.4,1937.0 1166.9,1937.5 1167.8,1945.3 1165.0,1954.5 1165.0,1962.8 1160.4,1969.3 1148.4,1972.6 1135.5,1977.6 1132.7,1983.2 1135.5,1987.8 1131.8,1989.6 1131.8,1994.2 1125.3,1997.9 1120.7,2001.6 1116.1,2005.3 1112.4,2013.6 1107.8,2022.9 1110.6,2032.1 1109.6,2041.4 1112.4,2050.6 1113.7,2059.8 1114.4,2060.0 1112.5,2065.5 1113.0,2073.9 1111.2,2085.9 1106.1,2088.6 1109.8,2091.4 1107.9,2100.6 1104.7,2107.1 1101.0,2108.0 1094.5,2112.6 1088.1,2116.3 1086.2,2119.1 1086.7,2123.7 1082.1,2127.4 1079.8,2130.7 1082.5,2135.3 1077.9,2138.0 1073.3,2140.8 1068.7,2141.5 1061.3,2140.4 1055.7,2141.1 1049.3,2139.4 1044.7,2135.3 1041.9,2132.8 1035.4,2133.4 1029.9,2133.9 1026.2,2135.3 1022.0,2133.0 1018.8,2130.9 1012.3,2130.9 1008.6,2128.3 1004.0,2124.7 999.9,2121.9 995.7,2121.4 992.0,2123.3 987.9,2121.0 986.5,2118.7 980.0,2117.7 974.3,2115.5 965.0,2112.4 958.6,2108.1 951.2,2104.1 945.3,2105.4 944.7,2098.0 938.3,2091.5 933.6,2092.1 929.0,2088.7 923.5,2080.4 918.9,2074.0 912.4,2073.0 909.6,2062.0 905.9,2052.7 898.5,2049.6 892.1,2044.4 888.4,2037.0 881.9,2031.5 872.7,2027.8 864.4,2027.4 857.9,2023.2 850.5,2022.2 846.8,2013.0 843.1,2000.1 841.3,1989.0 835.7,1984.4 835.7,1978.8 828.3,1977.0 825.6,1968.7 820.0,1962.2 821.0,1955.7 814.5,1953.9 812.6,1950.2 804.3,1949.3 798.8,1942.8 793.3,1931.7 788.6,1920.6" fill="none" stroke="#000" stroke-width="1.8" stroke-linejoin="round"/>
<g filter="url(#hs)"><g clip-path="url(#cA)">
<polygon points="1506.5,2937.5 1508.2,2927.8 1507.1,2920.2 1510.3,2908.4 1511.4,2898.7 1516.8,2891.1 1524.4,2882.5 1531.9,2877.1 1544.8,2871.7 1548.1,2867.4 1551.3,2868.5 1556.7,2876.5 1562.1,2871.7 1570.7,2866.3 1581.5,2864.2 1600.9,2864.8 1622.4,2863.8 1628.9,2866.3 1635.3,2863.8 1644.0,2863.8 1654.7,2868.5 1663.4,2876.0 1672.0,2880.3 1678.4,2887.9 1687.1,2893.3 1697.8,2893.3 1701.1,2894.4 1702.2,2900.8 1710.8,2903.0 1717.2,2905.1 1723.7,2913.8 1728.0,2923.4 1733.4,2932.1 1737.7,2942.8 1739.9,2950.4 1735.6,2954.7 1736.6,2964.4 1731.2,2970.9 1732.3,2979.5 1725.9,2985.9 1722.6,2992.4 1722.6,2997.8 1717.2,3003.2 1711.9,3010.7 1704.3,3017.2 1702.2,3024.7 1695.7,3029.1 1690.3,3033.4 1681.7,3030.1 1675.2,3035.5 1665.5,3039.4 1663.4,3033.4 1658.0,3028.0 1652.6,3031.2 1644.0,3036.6 1637.5,3037.7 1632.1,3033.4 1627.8,3024.7 1620.3,3023.7 1613.8,3016.1 1607.3,3016.1 1600.9,3021.5 1593.3,3019.4 1583.6,3016.1 1575.0,3014.0 1570.7,3019.4 1566.4,3025.8 1562.5,3024.7 1565.3,3017.2 1563.1,3011.8 1555.6,3010.7 1548.1,3012.9 1542.7,3004.3 1539.4,2994.6 1538.4,2987.0 1530.8,2982.7 1525.4,2977.3 1523.3,2968.7 1519.0,2960.1 1513.6,2953.6 1509.3,2946.1" fill="#e1da8b"/>
<polygon points="1517.9,2920.2 1525.4,2915.9 1534.1,2906.2 1544.8,2897.6 1553.4,2895.4 1555.6,2906.2 1562.1,2914.8 1566.4,2906.2 1570.7,2899.7 1577.2,2889.0 1585.8,2883.6 1596.6,2889.0 1598.7,2899.7 1607.3,2906.2 1605.2,2914.8 1609.5,2919.1 1620.3,2912.7 1626.7,2921.3 1622.4,2932.1 1633.2,2929.9 1639.7,2923.4 1644.0,2910.5 1650.4,2914.8 1656.9,2919.1 1665.5,2910.5 1674.1,2917.0 1680.6,2914.8 1682.8,2923.4 1693.5,2923.4 1697.8,2932.1 1706.5,2932.1 1715.1,2945.0 1706.5,2949.3 1712.9,2962.2 1706.5,2968.7 1708.6,2977.3 1704.3,2985.9 1704.3,2996.7 1697.8,2994.6 1687.1,2998.9 1682.8,3009.7 1674.1,3011.8 1667.7,2998.9 1665.5,2985.9 1676.3,2975.2 1684.9,2970.9 1680.6,2957.9 1672.0,2947.2 1674.1,2936.4 1663.4,2934.2 1652.6,2932.1 1644.0,2940.7 1637.5,2949.3 1644.0,2957.9 1650.4,2970.9 1641.8,2983.8 1644.0,2998.9 1650.4,3014.0 1641.8,3009.7 1633.2,2998.9 1622.4,2996.7 1611.6,2992.4 1615.9,2981.6 1611.6,2966.6 1615.9,2957.9 1609.5,2949.3 1600.9,2953.6 1598.7,2966.6 1587.9,2970.9 1579.3,2981.6 1570.7,2975.2 1557.8,2975.2 1562.1,2966.6 1549.1,2968.7 1538.4,2964.4 1536.2,2953.6 1529.7,2942.8 1523.3,2932.1" fill="#c0d873"/>
</g></g>
<polygon points="1506.5,2937.5 1508.2,2927.8 1507.1,2920.2 1510.3,2908.4 1511.4,2898.7 1516.8,2891.1 1524.4,2882.5 1531.9,2877.1 1544.8,2871.7 1548.1,2867.4 1551.3,2868.5 1556.7,2876.5 1562.1,2871.7 1570.7,2866.3 1581.5,2864.2 1600.9,2864.8 1622.4,2863.8 1628.9,2866.3 1635.3,2863.8 1644.0,2863.8 1654.7,2868.5 1663.4,2876.0 1672.0,2880.3 1678.4,2887.9 1687.1,2893.3 1697.8,2893.3 1701.1,2894.4 1702.2,2900.8 1710.8,2903.0 1717.2,2905.1 1723.7,2913.8 1728.0,2923.4 1733.4,2932.1 1737.7,2942.8 1739.9,2950.4 1735.6,2954.7 1736.6,2964.4 1731.2,2970.9 1732.3,2979.5 1725.9,2985.9 1722.6,2992.4 1722.6,2997.8 1717.2,3003.2 1711.9,3010.7 1704.3,3017.2 1702.2,3024.7 1695.7,3029.1 1690.3,3033.4 1681.7,3030.1 1675.2,3035.5 1665.5,3039.4 1663.4,3033.4 1658.0,3028.0 1652.6,3031.2 1644.0,3036.6 1637.5,3037.7 1632.1,3033.4 1627.8,3024.7 1620.3,3023.7 1613.8,3016.1 1607.3,3016.1 1600.9,3021.5 1593.3,3019.4 1583.6,3016.1 1575.0,3014.0 1570.7,3019.4 1566.4,3025.8 1562.5,3024.7 1565.3,3017.2 1563.1,3011.8 1555.6,3010.7 1548.1,3012.9 1542.7,3004.3 1539.4,2994.6 1538.4,2987.0 1530.8,2982.7 1525.4,2977.3 1523.3,2968.7 1519.0,2960.1 1513.6,2953.6 1509.3,2946.1" fill="none" stroke="#000" stroke-width="1.8" stroke-linejoin="round"/>
<polygon points="1543.8,3036.6 1549.1,3033.4 1556.7,3033.8 1551.3,3035.5 1545.9,3038.8" fill="#e1da8b" stroke="#000" stroke-width="1.6"/>
<g filter="url(#hs)"><g clip-path="url(#cF)">
<polygon points="2161.2,1927.2 2168.4,1925.6 2175.6,1925.1 2179.6,1928.4 2183.2,1932.0 2190.0,1930.8 2196.4,1930.3 2203.6,1931.6 2208.8,1929.2 2210.8,1922.0 2214.9,1920.4 2222.1,1919.5 2223.7,1923.6 2221.3,1927.6 2216.9,1931.6 2218.1,1934.0 2214.9,1937.2 2212.9,1941.2 2213.3,1947.6 2214.5,1952.4 2212.9,1958.0 2212.5,1962.0 2216.5,1963.2 2220.5,1965.6 2214.9,1966.8 2213.3,1969.2 2206.8,1970.8 2204.4,1977.3 2202.4,1981.3 2200.4,1980.5 2199.2,1976.5 2194.8,1978.1 2190.0,1976.1 2181.2,1976.9 2178.8,1973.3 2176.4,1963.6 2174.0,1958.0 2170.0,1953.2 2167.6,1950.0 2164.4,1947.6 2170.8,1944.4 2173.2,1936.4 2170.0,1930.8 2165.2,1928.8" fill="#e1da8b"/>
<polygon points="2174.8,1938.8 2181.2,1936.4 2190.8,1934.8 2196.4,1933.6 2202.0,1936.4 2206.0,1941.2 2207.2,1949.2 2207.6,1957.2 2202.0,1963.6 2195.6,1969.2 2189.2,1970.0 2182.0,1968.8 2178.8,1960.4 2174.8,1954.0 2172.0,1947.6" fill="#c0d873"/>
</g></g>
<polygon points="2161.2,1927.2 2168.4,1925.6 2175.6,1925.1 2179.6,1928.4 2183.2,1932.0 2190.0,1930.8 2196.4,1930.3 2203.6,1931.6 2208.8,1929.2 2210.8,1922.0 2214.9,1920.4 2222.1,1919.5 2223.7,1923.6 2221.3,1927.6 2216.9,1931.6 2218.1,1934.0 2214.9,1937.2 2212.9,1941.2 2213.3,1947.6 2214.5,1952.4 2212.9,1958.0 2212.5,1962.0 2216.5,1963.2 2220.5,1965.6 2214.9,1966.8 2213.3,1969.2 2206.8,1970.8 2204.4,1977.3 2202.4,1981.3 2200.4,1980.5 2199.2,1976.5 2194.8,1978.1 2190.0,1976.1 2181.2,1976.9 2178.8,1973.3 2176.4,1963.6 2174.0,1958.0 2170.0,1953.2 2167.6,1950.0 2164.4,1947.6 2170.8,1944.4 2173.2,1936.4 2170.0,1930.8 2165.2,1928.8" fill="none" stroke="#000" stroke-width="1.8" stroke-linejoin="round"/>
<g filter="url(#hs)"><g clip-path="url(#cW)">
<polygon points="1302.7,1489.0 1305.1,1491.5 1306.3,1495.7 1307.3,1501.8 1308.8,1507.9 1310.6,1513.4 1312.4,1512.8 1314.0,1507.3 1315.5,1503.0 1317.0,1498.2 1317.6,1493.9 1317.3,1489.0 1318.5,1486.6 1316.4,1482.3 1313.7,1478.7 1312.4,1476.8 1311.2,1475.1 1309.9,1475.1 1309.1,1476.8 1310.1,1479.0 1308.2,1479.4 1306.7,1478.0 1306.8,1474.4 1308.5,1472.3 1310.9,1471.3 1313.0,1472.7 1314.7,1475.3 1317.9,1477.4 1321.0,1481.1 1322.5,1486.6 1323.1,1492.7 1321.6,1501.8 1319.1,1511.0 1316.7,1520.1 1314.9,1529.3 1314.3,1538.4 1314.0,1545.1 1312.4,1553.7 1310.6,1559.1 1308.8,1563.4 1305.1,1564.6 1301.5,1565.9 1297.8,1568.9 1294.1,1570.4 1291.1,1568.9 1288.7,1564.0 1287.1,1559.8 1285.6,1554.9 1287.4,1553.0 1286.8,1547.6 1286.2,1545.7 1288.7,1541.5 1290.5,1536.6 1291.1,1531.1 1292.3,1526.2 1296.0,1521.3 1297.8,1516.5 1299.0,1512.8 1298.4,1506.7 1299.6,1500.6 1299.6,1496.3 1302.1,1492.7" fill="#e1da8b"/>
</g></g>
<polygon points="1302.7,1489.0 1305.1,1491.5 1306.3,1495.7 1307.3,1501.8 1308.8,1507.9 1310.6,1513.4 1312.4,1512.8 1314.0,1507.3 1315.5,1503.0 1317.0,1498.2 1317.6,1493.9 1317.3,1489.0 1318.5,1486.6 1316.4,1482.3 1313.7,1478.7 1312.4,1476.8 1311.2,1475.1 1309.9,1475.1 1309.1,1476.8 1310.1,1479.0 1308.2,1479.4 1306.7,1478.0 1306.8,1474.4 1308.5,1472.3 1310.9,1471.3 1313.0,1472.7 1314.7,1475.3 1317.9,1477.4 1321.0,1481.1 1322.5,1486.6 1323.1,1492.7 1321.6,1501.8 1319.1,1511.0 1316.7,1520.1 1314.9,1529.3 1314.3,1538.4 1314.0,1545.1 1312.4,1553.7 1310.6,1559.1 1308.8,1563.4 1305.1,1564.6 1301.5,1565.9 1297.8,1568.9 1294.1,1570.4 1291.1,1568.9 1288.7,1564.0 1287.1,1559.8 1285.6,1554.9 1287.4,1553.0 1286.8,1547.6 1286.2,1545.7 1288.7,1541.5 1290.5,1536.6 1291.1,1531.1 1292.3,1526.2 1296.0,1521.3 1297.8,1516.5 1299.0,1512.8 1298.4,1506.7 1299.6,1500.6 1299.6,1496.3 1302.1,1492.7" fill="none" stroke="#000" stroke-width="1.8" stroke-linejoin="round"/>
<polyline points="1310.6,1513.4 1309.7,1517.7 1310.3,1522.6" fill="none" stroke="#000" stroke-width="1.8"/>
<polyline points="1308.5,1483.0 1310.6,1483.7 1312.3,1483.4" fill="none" stroke="#000" stroke-width="1.5"/>
<polyline points="1318.2,1487.9 1321.7,1488.2" fill="none" stroke="#000" stroke-width="1.5"/>
<polyline points="1315.8,1502.0 1319.8,1502.3" fill="none" stroke="#000" stroke-width="1.5"/>
<polyline points="1315.2,1505.2 1317.6,1505.6" fill="none" stroke="#000" stroke-width="1.5"/>
<g stroke="#808080" stroke-opacity="0.62" stroke-width="2" stroke-dasharray="7.6 3.44" fill="none">
<line x1="436.00" y1="3400.5" x2="436.00" y2="108.4"/>
<line x1="724.67" y1="3400.5" x2="724.67" y2="108.4"/>
<line x1="1013.33" y1="3400.5" x2="1013.33" y2="108.4"/>
<line x1="1302.00" y1="3400.5" x2="1302.00" y2="108.4"/>
<line x1="1590.67" y1="3400.5" x2="1590.67" y2="108.4"/>
<line x1="1879.33" y1="3400.5" x2="1879.33" y2="108.4"/>
<line x1="2168.00" y1="3400.5" x2="2168.00" y2="108.4"/>
<line x1="185.3" y1="551.00" x2="2407" y2="551.00"/>
<line x1="185.3" y1="1003.00" x2="2407" y2="1003.00"/>
<line x1="185.3" y1="1455.00" x2="2407" y2="1455.00"/>
<line x1="185.3" y1="1907.00" x2="2407" y2="1907.00"/>
<line x1="185.3" y1="2359.00" x2="2407" y2="2359.00"/>
<line x1="185.3" y1="2811.00" x2="2407" y2="2811.00"/>
<line x1="185.3" y1="3263.00" x2="2407" y2="3263.00"/>
</g>
<rect x="1950" y="151" width="430" height="376" fill="#fff"/>
<g transform="translate(2162.5,321.0)">
<g><path d="M25.5,196.6 L23.0,196.0 L19.8,195.3 L15.9,194.5 L11.4,193.3 L6.1,191.9 L0.3,190.1 L-6.5,187.9 L-14.4,185.3 L-23.0,182.4 L-31.7,179.3 L-40.3,176.0 L-48.3,172.5 L-55.8,168.8 L-63.1,164.9 L-70.3,160.8 L-77.2,156.5 L-83.8,152.2 L-90.0,148.0 L-95.7,143.8 L-101.0,139.7 L-106.0,135.5 L-110.7,131.3 L-115.3,126.9 L-119.9,122.4 L-124.4,117.7 L-128.9,112.8 L-133.2,107.8 L-137.4,102.8 L-141.3,97.9 L-145.0,93.0 L-148.5,88.3 L-151.7,83.7 L-154.8,79.1 L-157.6,74.5 L-160.3,69.9 L-162.8,65.1 L-165.1,60.3 L-167.2,55.4 L-169.1,50.5 L-170.9,45.5 L-172.5,40.3 L-174.0,35.0 L-175.4,29.4 L-176.6,23.5 L-177.8,17.5 L-178.7,11.5 L-179.5,5.6 L-180.0,0.0 L-180.3,-5.3 L-180.3,-10.3 L-180.2,-15.2 L-179.9,-20.0 L-179.5,-24.9 L-179.0,-30.0 L-178.4,-35.3 L-177.6,-40.8 L-176.8,-46.3 L-175.8,-51.9 L-174.7,-57.3 L-173.6,-62.6 L-172.5,-67.7 L-171.3,-72.7 L-170.0,-77.6 L-168.7,-82.5 L-167.1,-87.3 L-165.2,-92.2 L-163.0,-97.2 L-160.5,-102.3 L-157.7,-107.4 L-154.9,-112.3 L-152.1,-117.1 L-149.5,-121.7 L-146.8,-126.2 L-144.0,-130.8 L-141.1,-135.1 L-138.5,-139.1 L-136.3,-142.4 L-134.7,-144.9 L-134.7,-144.9" fill="none" stroke="#188f58" stroke-width="2" stroke-linecap="round"/><g fill="#188f58"><path transform="translate(-30.0,179.9) rotate(-231.9)" d="M0,0 C3.04,-3.21 11.48,-1.86 16.03,5.06 C12.15,3.54 5.40,2.53 0,0Z"/><path transform="translate(-34.7,178.2) rotate(-97.1) scale(1,-1)" d="M0,0 C2.29,-2.92 8.67,-1.69 12.11,3.82 C9.18,2.97 4.08,2.31 0,0Z"/><path transform="translate(-42.5,175.1) rotate(-228.9)" d="M0,0 C3.44,-3.63 13.00,-2.10 18.17,5.74 C13.77,4.02 6.12,2.87 0,0Z"/><path transform="translate(-47.1,173.1) rotate(-93.4) scale(1,-1)" d="M0,0 C2.60,-3.31 9.83,-1.92 13.73,4.33 C10.40,3.36 4.62,2.61 0,0Z"/><path transform="translate(-54.6,169.4) rotate(-225.1)" d="M0,0 C3.85,-4.06 14.53,-2.35 20.31,6.41 C15.39,4.49 6.84,3.21 0,0Z"/><path transform="translate(-59.1,167.1) rotate(-90.1) scale(1,-1)" d="M0,0 C2.91,-3.70 10.98,-2.14 15.34,4.84 C11.63,3.76 5.17,2.92 0,0Z"/><path transform="translate(-66.4,163.0) rotate(-222.2)" d="M0,0 C4.05,-4.27 15.30,-2.48 21.38,6.75 C16.20,4.72 7.20,3.38 0,0Z"/><path transform="translate(-70.7,160.5) rotate(-87.0) scale(1,-1)" d="M0,0 C3.06,-3.89 11.56,-2.25 16.15,5.10 C12.24,3.96 5.44,3.07 0,0Z"/><path transform="translate(-77.9,156.1) rotate(-219.5)" d="M0,0 C4.05,-4.27 15.30,-2.48 21.38,6.75 C16.20,4.72 7.20,3.38 0,0Z"/><path transform="translate(-82.1,153.4) rotate(-84.8) scale(1,-1)" d="M0,0 C3.06,-3.89 11.56,-2.25 16.15,5.10 C12.24,3.96 5.44,3.07 0,0Z"/><path transform="translate(-89.0,148.7) rotate(-217.2)" d="M0,0 C4.05,-4.27 15.30,-2.48 21.38,6.75 C16.20,4.72 7.20,3.38 0,0Z"/><path transform="translate(-93.1,145.8) rotate(-81.7) scale(1,-1)" d="M0,0 C3.06,-3.89 11.56,-2.25 16.15,5.10 C12.24,3.96 5.44,3.07 0,0Z"/><path transform="translate(-99.8,140.7) rotate(-213.1)" d="M0,0 C4.05,-4.27 15.30,-2.48 21.38,6.75 C16.20,4.72 7.20,3.38 0,0Z"/><path transform="translate(-103.6,137.5) rotate(-77.7) scale(1,-1)" d="M0,0 C3.06,-3.89 11.56,-2.25 16.15,5.10 C12.24,3.96 5.44,3.07 0,0Z"/><path transform="translate(-110.0,132.0) rotate(-209.5)" d="M0,0 C4.05,-4.27 15.30,-2.48 21.38,6.75 C16.20,4.72 7.20,3.38 0,0Z"/><path transform="translate(-113.6,128.6) rotate(-74.4) scale(1,-1)" d="M0,0 C3.06,-3.89 11.56,-2.25 16.15,5.10 C12.24,3.96 5.44,3.07 0,0Z"/><path transform="translate(-119.6,122.7) rotate(-207.1)" d="M0,0 C4.05,-4.27 15.30,-2.48 21.38,6.75 C16.20,4.72 7.20,3.38 0,0Z"/><path transform="translate(-123.1,119.1) rotate(-71.8) scale(1,-1)" d="M0,0 C3.06,-3.89 11.56,-2.25 16.15,5.10 C12.24,3.96 5.44,3.07 0,0Z"/><path transform="translate(-128.8,112.9) rotate(-203.8)" d="M0,0 C4.05,-4.27 15.30,-2.48 21.38,6.75 C16.20,4.72 7.20,3.38 0,0Z"/><path transform="translate(-132.1,109.2) rotate(-68.7) scale(1,-1)" d="M0,0 C3.06,-3.89 11.56,-2.25 16.15,5.10 C12.24,3.96 5.44,3.07 0,0Z"/><path transform="translate(-137.5,102.7) rotate(-200.8)" d="M0,0 C4.05,-4.27 15.30,-2.48 21.38,6.75 C16.20,4.72 7.20,3.38 0,0Z"/><path transform="translate(-140.6,98.8) rotate(-66.0) scale(1,-1)" d="M0,0 C3.06,-3.89 11.56,-2.25 16.15,5.10 C12.24,3.96 5.44,3.07 0,0Z"/><path transform="translate(-145.7,92.1) rotate(-198.7)" d="M0,0 C4.05,-4.27 15.30,-2.48 21.38,6.75 C16.20,4.72 7.20,3.38 0,0Z"/><path transform="translate(-148.6,88.1) rotate(-63.6) scale(1,-1)" d="M0,0 C3.06,-3.89 11.56,-2.25 16.15,5.10 C12.24,3.96 5.44,3.07 0,0Z"/><path transform="translate(-153.4,81.2) rotate(-195.5)" d="M0,0 C4.05,-4.27 15.30,-2.48 21.38,6.75 C16.20,4.72 7.20,3.38 0,0Z"/><path transform="translate(-156.1,77.0) rotate(-60.2) scale(1,-1)" d="M0,0 C3.06,-3.89 11.56,-2.25 16.15,5.10 C12.24,3.96 5.44,3.07 0,0Z"/><path transform="translate(-160.4,69.7) rotate(-190.6)" d="M0,0 C4.05,-4.27 15.30,-2.48 21.38,6.75 C16.20,4.72 7.20,3.38 0,0Z"/><path transform="translate(-162.7,65.3) rotate(-54.9) scale(1,-1)" d="M0,0 C3.06,-3.89 11.56,-2.25 16.15,5.10 C12.24,3.96 5.44,3.07 0,0Z"/><path transform="translate(-166.3,57.7) rotate(-185.2)" d="M0,0 C4.05,-4.27 15.30,-2.48 21.38,6.75 C16.20,4.72 7.20,3.38 0,0Z"/><path transform="translate(-168.2,53.1) rotate(-49.6) scale(1,-1)" d="M0,0 C3.06,-3.89 11.56,-2.25 16.15,5.10 C12.24,3.96 5.44,3.07 0,0Z"/><path transform="translate(-171.0,45.2) rotate(-180.1)" d="M0,0 C4.05,-4.27 15.30,-2.48 21.38,6.75 C16.20,4.72 7.20,3.38 0,0Z"/><path transform="translate(-172.5,40.4) rotate(-44.7) scale(1,-1)" d="M0,0 C3.06,-3.89 11.56,-2.25 16.15,5.10 C12.24,3.96 5.44,3.07 0,0Z"/><path transform="translate(-174.7,32.3) rotate(-176.1)" d="M0,0 C4.05,-4.27 15.30,-2.48 21.38,6.75 C16.20,4.72 7.20,3.38 0,0Z"/><path transform="translate(-175.8,27.4) rotate(-40.3) scale(1,-1)" d="M0,0 C3.06,-3.89 11.56,-2.25 16.15,5.10 C12.24,3.96 5.44,3.07 0,0Z"/><path transform="translate(-177.5,19.2) rotate(-172.3)" d="M0,0 C4.05,-4.27 15.30,-2.48 21.38,6.75 C16.20,4.72 7.20,3.38 0,0Z"/><path transform="translate(-178.3,14.3) rotate(-36.8) scale(1,-1)" d="M0,0 C3.06,-3.89 11.56,-2.25 16.15,5.10 C12.24,3.96 5.44,3.07 0,0Z"/><path transform="translate(-179.4,5.9) rotate(-168.7)" d="M0,0 C4.05,-4.27 15.30,-2.48 21.38,6.75 C16.20,4.72 7.20,3.38 0,0Z"/><path transform="translate(-179.9,1.0) rotate(-32.7) scale(1,-1)" d="M0,0 C3.06,-3.89 11.56,-2.25 16.15,5.10 C12.24,3.96 5.44,3.07 0,0Z"/><path transform="translate(-180.3,-7.4) rotate(-163.0)" d="M0,0 C4.05,-4.27 15.30,-2.48 21.38,6.75 C16.20,4.72 7.20,3.38 0,0Z"/><path transform="translate(-180.3,-12.4) rotate(-26.7) scale(1,-1)" d="M0,0 C3.06,-3.89 11.56,-2.25 16.15,5.10 C12.24,3.96 5.44,3.07 0,0Z"/><path transform="translate(-179.9,-20.8) rotate(-157.6)" d="M0,0 C4.05,-4.27 15.30,-2.48 21.38,6.75 C16.20,4.72 7.20,3.38 0,0Z"/><path transform="translate(-179.4,-25.8) rotate(-22.6) scale(1,-1)" d="M0,0 C3.06,-3.89 11.56,-2.25 16.15,5.10 C12.24,3.96 5.44,3.07 0,0Z"/><path transform="translate(-178.5,-34.2) rotate(-154.9)" d="M0,0 C4.05,-4.27 15.30,-2.48 21.38,6.75 C16.20,4.72 7.20,3.38 0,0Z"/><path transform="translate(-177.9,-39.1) rotate(-20.0) scale(1,-1)" d="M0,0 C3.06,-3.89 11.56,-2.25 16.15,5.10 C12.24,3.96 5.44,3.07 0,0Z"/><path transform="translate(-176.6,-47.4) rotate(-152.4)" d="M0,0 C4.05,-4.27 15.30,-2.48 21.38,6.75 C16.20,4.72 7.20,3.38 0,0Z"/><path transform="translate(-175.7,-52.3) rotate(-17.4) scale(1,-1)" d="M0,0 C3.06,-3.89 11.56,-2.25 16.15,5.10 C12.24,3.96 5.44,3.07 0,0Z"/><path transform="translate(-174.1,-60.2) rotate(-149.9)" d="M0,0 C4.05,-4.27 15.30,-2.48 21.38,6.75 C16.20,4.72 7.20,3.38 0,0Z"/><path transform="translate(-173.1,-65.1) rotate(-15.5) scale(1,-1)" d="M0,0 C3.06,-3.89 11.56,-2.25 16.15,5.10 C12.24,3.96 5.44,3.07 0,0Z"/><path transform="translate(-171.3,-72.5) rotate(-148.5)" d="M0,0 C4.05,-4.27 15.30,-2.48 21.38,6.75 C16.20,4.72 7.20,3.38 0,0Z"/><path transform="translate(-170.1,-77.3) rotate(-13.2) scale(1,-1)" d="M0,0 C3.06,-3.89 11.56,-2.25 16.15,5.10 C12.24,3.96 5.44,3.07 0,0Z"/><path transform="translate(-168.1,-84.3) rotate(-144.1)" d="M0,0 C4.05,-4.27 15.30,-2.48 21.38,6.75 C16.20,4.72 7.20,3.38 0,0Z"/><path transform="translate(-166.4,-89.0) rotate(-7.6) scale(1,-1)" d="M0,0 C3.06,-3.89 11.56,-2.25 16.15,5.10 C12.24,3.96 5.44,3.07 0,0Z"/><path transform="translate(-163.8,-95.4) rotate(-137.8)" d="M0,0 C3.99,-4.21 15.07,-2.44 21.05,6.65 C15.95,4.65 7.09,3.32 0,0Z"/><path transform="translate(-161.7,-99.9) rotate(-1.3) scale(1,-1)" d="M0,0 C3.01,-3.84 11.38,-2.22 15.90,5.02 C12.05,3.89 5.36,3.03 0,0Z"/><path transform="translate(-158.7,-105.6) rotate(-133.6)" d="M0,0 C3.73,-3.94 14.10,-2.28 19.70,6.22 C14.93,4.36 6.64,3.11 0,0Z"/><path transform="translate(-156.3,-110.0) rotate(1.6) scale(1,-1)" d="M0,0 C2.82,-3.59 10.66,-2.08 14.89,4.70 C11.28,3.65 5.01,2.83 0,0Z"/><path transform="translate(-153.2,-115.4) rotate(-131.8)" d="M0,0 C3.49,-3.68 13.17,-2.13 18.40,5.81 C13.94,4.07 6.20,2.90 0,0Z"/><path transform="translate(-150.7,-119.7) rotate(2.2) scale(1,-1)" d="M0,0 C2.63,-3.35 9.95,-1.94 13.90,4.39 C10.53,3.40 4.68,2.65 0,0Z"/><path transform="translate(-147.7,-124.7) rotate(-130.9)" d="M0,0 C3.25,-3.43 12.26,-1.98 17.13,5.41 C12.98,3.79 5.77,2.70 0,0Z"/><path transform="translate(-145.1,-129.0) rotate(4.2) scale(1,-1)" d="M0,0 C2.45,-3.12 9.26,-1.81 12.94,4.09 C9.81,3.17 4.36,2.46 0,0Z"/><path transform="translate(-142.1,-133.6) rotate(-129.0)" d="M0,0 C3.01,-3.18 11.38,-1.84 15.90,5.02 C12.05,3.51 5.36,2.51 0,0Z"/><path transform="translate(-139.4,-137.8) rotate(5.4) scale(1,-1)" d="M0,0 C2.28,-2.90 8.60,-1.68 12.01,3.79 C9.10,2.94 4.05,2.29 0,0Z"/><path transform="translate(-134.7,-144.9) rotate(-53.3)" d="M-2,0 C3,-6 12,-5 24,2 C15,4 6,5 -2,0Z"/><path transform="translate(-134.7,-144.9) rotate(-119.3)" d="M0,0 C2.34,-3.80 8.84,-2.20 12.35,3.90 C9.36,3.50 4.16,3.00 0,0Z"/><path transform="translate(-134.7,-144.9) rotate(4.7) scale(1,-1)" d="M0,0 C2.34,-3.80 8.84,-2.20 12.35,3.90 C9.36,3.50 4.16,3.00 0,0Z"/></g></g>
<g transform="scale(-1,1)"><path d="M25.5,196.6 L23.0,196.0 L19.8,195.3 L15.9,194.5 L11.4,193.3 L6.1,191.9 L0.3,190.1 L-6.5,187.9 L-14.4,185.3 L-23.0,182.4 L-31.7,179.3 L-40.3,176.0 L-48.3,172.5 L-55.8,168.8 L-63.1,164.9 L-70.3,160.8 L-77.2,156.5 L-83.8,152.2 L-90.0,148.0 L-95.7,143.8 L-101.0,139.7 L-106.0,135.5 L-110.7,131.3 L-115.3,126.9 L-119.9,122.4 L-124.4,117.7 L-128.9,112.8 L-133.2,107.8 L-137.4,102.8 L-141.3,97.9 L-145.0,93.0 L-148.5,88.3 L-151.7,83.7 L-154.8,79.1 L-157.6,74.5 L-160.3,69.9 L-162.8,65.1 L-165.1,60.3 L-167.2,55.4 L-169.1,50.5 L-170.9,45.5 L-172.5,40.3 L-174.0,35.0 L-175.4,29.4 L-176.6,23.5 L-177.8,17.5 L-178.7,11.5 L-179.5,5.6 L-180.0,0.0 L-180.3,-5.3 L-180.3,-10.3 L-180.2,-15.2 L-179.9,-20.0 L-179.5,-24.9 L-179.0,-30.0 L-178.4,-35.3 L-177.6,-40.8 L-176.8,-46.3 L-175.8,-51.9 L-174.7,-57.3 L-173.6,-62.6 L-172.5,-67.7 L-171.3,-72.7 L-170.0,-77.6 L-168.7,-82.5 L-167.1,-87.3 L-165.2,-92.2 L-163.0,-97.2 L-160.5,-102.3 L-157.7,-107.4 L-154.9,-112.3 L-152.1,-117.1 L-149.5,-121.7 L-146.8,-126.2 L-144.0,-130.8 L-141.1,-135.1 L-138.5,-139.1 L-136.3,-142.4 L-134.7,-144.9 L-134.7,-144.9" fill="none" stroke="#188f58" stroke-width="2" stroke-linecap="round"/><g fill="#188f58"><path transform="translate(-30.0,179.9) rotate(-231.9)" d="M0,0 C3.04,-3.21 11.48,-1.86 16.03,5.06 C12.15,3.54 5.40,2.53 0,0Z"/><path transform="translate(-34.7,178.2) rotate(-97.1) scale(1,-1)" d="M0,0 C2.29,-2.92 8.67,-1.69 12.11,3.82 C9.18,2.97 4.08,2.31 0,0Z"/><path transform="translate(-42.5,175.1) rotate(-228.9)" d="M0,0 C3.44,-3.63 13.00,-2.10 18.17,5.74 C13.77,4.02 6.12,2.87 0,0Z"/><path transform="translate(-47.1,173.1) rotate(-93.4) scale(1,-1)" d="M0,0 C2.60,-3.31 9.83,-1.92 13.73,4.33 C10.40,3.36 4.62,2.61 0,0Z"/><path transform="translate(-54.6,169.4) rotate(-225.1)" d="M0,0 C3.85,-4.06 14.53,-2.35 20.31,6.41 C15.39,4.49 6.84,3.21 0,0Z"/><path transform="translate(-59.1,167.1) rotate(-90.1) scale(1,-1)" d="M0,0 C2.91,-3.70 10.98,-2.14 15.34,4.84 C11.63,3.76 5.17,2.92 0,0Z"/><path transform="translate(-66.4,163.0) rotate(-222.2)" d="M0,0 C4.05,-4.27 15.30,-2.48 21.38,6.75 C16.20,4.72 7.20,3.38 0,0Z"/><path transform="translate(-70.7,160.5) rotate(-87.0) scale(1,-1)" d="M0,0 C3.06,-3.89 11.56,-2.25 16.15,5.10 C12.24,3.96 5.44,3.07 0,0Z"/><path transform="translate(-77.9,156.1) rotate(-219.5)" d="M0,0 C4.05,-4.27 15.30,-2.48 21.38,6.75 C16.20,4.72 7.20,3.38 0,0Z"/><path transform="translate(-82.1,153.4) rotate(-84.8) scale(1,-1)" d="M0,0 C3.06,-3.89 11.56,-2.25 16.15,5.10 C12.24,3.96 5.44,3.07 0,0Z"/><path transform="translate(-89.0,148.7) rotate(-217.2)" d="M0,0 C4.05,-4.27 15.30,-2.48 21.38,6.75 C16.20,4.72 7.20,3.38 0,0Z"/><path transform="translate(-93.1,145.8) rotate(-81.7) scale(1,-1)" d="M0,0 C3.06,-3.89 11.56,-2.25 16.15,5.10 C12.24,3.96 5.44,3.07 0,0Z"/><path transform="translate(-99.8,140.7) rotate(-213.1)" d="M0,0 C4.05,-4.27 15.30,-2.48 21.38,6.75 C16.20,4.72 7.20,3.38 0,0Z"/><path transform="translate(-103.6,137.5) rotate(-77.7) scale(1,-1)" d="M0,0 C3.06,-3.89 11.56,-2.25 16.15,5.10 C12.24,3.96 5.44,3.07 0,0Z"/><path transform="translate(-110.0,132.0) rotate(-209.5)" d="M0,0 C4.05,-4.27 15.30,-2.48 21.38,6.75 C16.20,4.72 7.20,3.38 0,0Z"/><path transform="translate(-113.6,128.6) rotate(-74.4) scale(1,-1)" d="M0,0 C3.06,-3.89 11.56,-2.25 16.15,5.10 C12.24,3.96 5.44,3.07 0,0Z"/><path transform="translate(-119.6,122.7) rotate(-207.1)" d="M0,0 C4.05,-4.27 15.30,-2.48 21.38,6.75 C16.20,4.72 7.20,3.38 0,0Z"/><path transform="translate(-123.1,119.1) rotate(-71.8) scale(1,-1)" d="M0,0 C3.06,-3.89 11.56,-2.25 16.15,5.10 C12.24,3.96 5.44,3.07 0,0Z"/><path transform="translate(-128.8,112.9) rotate(-203.8)" d="M0,0 C4.05,-4.27 15.30,-2.48 21.38,6.75 C16.20,4.72 7.20,3.38 0,0Z"/><path transform="translate(-132.1,109.2) rotate(-68.7) scale(1,-1)" d="M0,0 C3.06,-3.89 11.56,-2.25 16.15,5.10 C12.24,3.96 5.44,3.07 0,0Z"/><path transform="translate(-137.5,102.7) rotate(-200.8)" d="M0,0 C4.05,-4.27 15.30,-2.48 21.38,6.75 C16.20,4.72 7.20,3.38 0,0Z"/><path transform="translate(-140.6,98.8) rotate(-66.0) scale(1,-1)" d="M0,0 C3.06,-3.89 11.56,-2.25 16.15,5.10 C12.24,3.96 5.44,3.07 0,0Z"/><path transform="translate(-145.7,92.1) rotate(-198.7)" d="M0,0 C4.05,-4.27 15.30,-2.48 21.38,6.75 C16.20,4.72 7.20,3.38 0,0Z"/><path transform="translate(-148.6,88.1) rotate(-63.6) scale(1,-1)" d="M0,0 C3.06,-3.89 11.56,-2.25 16.15,5.10 C12.24,3.96 5.44,3.07 0,0Z"/><path transform="translate(-153.4,81.2) rotate(-195.5)" d="M0,0 C4.05,-4.27 15.30,-2.48 21.38,6.75 C16.20,4.72 7.20,3.38 0,0Z"/><path transform="translate(-156.1,77.0) rotate(-60.2) scale(1,-1)" d="M0,0 C3.06,-3.89 11.56,-2.25 16.15,5.10 C12.24,3.96 5.44,3.07 0,0Z"/><path transform="translate(-160.4,69.7) rotate(-190.6)" d="M0,0 C4.05,-4.27 15.30,-2.48 21.38,6.75 C16.20,4.72 7.20,3.38 0,0Z"/><path transform="translate(-162.7,65.3) rotate(-54.9) scale(1,-1)" d="M0,0 C3.06,-3.89 11.56,-2.25 16.15,5.10 C12.24,3.96 5.44,3.07 0,0Z"/><path transform="translate(-166.3,57.7) rotate(-185.2)" d="M0,0 C4.05,-4.27 15.30,-2.48 21.38,6.75 C16.20,4.72 7.20,3.38 0,0Z"/><path transform="translate(-168.2,53.1) rotate(-49.6) scale(1,-1)" d="M0,0 C3.06,-3.89 11.56,-2.25 16.15,5.10 C12.24,3.96 5.44,3.07 0,0Z"/><path transform="translate(-171.0,45.2) rotate(-180.1)" d="M0,0 C4.05,-4.27 15.30,-2.48 21.38,6.75 C16.20,4.72 7.20,3.38 0,0Z"/><path transform="translate(-172.5,40.4) rotate(-44.7) scale(1,-1)" d="M0,0 C3.06,-3.89 11.56,-2.25 16.15,5.10 C12.24,3.96 5.44,3.07 0,0Z"/><path transform="translate(-174.7,32.3) rotate(-176.1)" d="M0,0 C4.05,-4.27 15.30,-2.48 21.38,6.75 C16.20,4.72 7.20,3.38 0,0Z"/><path transform="translate(-175.8,27.4) rotate(-40.3) scale(1,-1)" d="M0,0 C3.06,-3.89 11.56,-2.25 16.15,5.10 C12.24,3.96 5.44,3.07 0,0Z"/><path transform="translate(-177.5,19.2) rotate(-172.3)" d="M0,0 C4.05,-4.27 15.30,-2.48 21.38,6.75 C16.20,4.72 7.20,3.38 0,0Z"/><path transform="translate(-178.3,14.3) rotate(-36.8) scale(1,-1)" d="M0,0 C3.06,-3.89 11.56,-2.25 16.15,5.10 C12.24,3.96 5.44,3.07 0,0Z"/><path transform="translate(-179.4,5.9) rotate(-168.7)" d="M0,0 C4.05,-4.27 15.30,-2.48 21.38,6.75 C16.20,4.72 7.20,3.38 0,0Z"/><path transform="translate(-179.9,1.0) rotate(-32.7) scale(1,-1)" d="M0,0 C3.06,-3.89 11.56,-2.25 16.15,5.10 C12.24,3.96 5.44,3.07 0,0Z"/><path transform="translate(-180.3,-7.4) rotate(-163.0)" d="M0,0 C4.05,-4.27 15.30,-2.48 21.38,6.75 C16.20,4.72 7.20,3.38 0,0Z"/><path transform="translate(-180.3,-12.4) rotate(-26.7) scale(1,-1)" d="M0,0 C3.06,-3.89 11.56,-2.25 16.15,5.10 C12.24,3.96 5.44,3.07 0,0Z"/><path transform="translate(-179.9,-20.8) rotate(-157.6)" d="M0,0 C4.05,-4.27 15.30,-2.48 21.38,6.75 C16.20,4.72 7.20,3.38 0,0Z"/><path transform="translate(-179.4,-25.8) rotate(-22.6) scale(1,-1)" d="M0,0 C3.06,-3.89 11.56,-2.25 16.15,5.10 C12.24,3.96 5.44,3.07 0,0Z"/><path transform="translate(-178.5,-34.2) rotate(-154.9)" d="M0,0 C4.05,-4.27 15.30,-2.48 21.38,6.75 C16.20,4.72 7.20,3.38 0,0Z"/><path transform="translate(-177.9,-39.1) rotate(-20.0) scale(1,-1)" d="M0,0 C3.06,-3.89 11.56,-2.25 16.15,5.10 C12.24,3.96 5.44,3.07 0,0Z"/><path transform="translate(-176.6,-47.4) rotate(-152.4)" d="M0,0 C4.05,-4.27 15.30,-2.48 21.38,6.75 C16.20,4.72 7.20,3.38 0,0Z"/><path transform="translate(-175.7,-52.3) rotate(-17.4) scale(1,-1)" d="M0,0 C3.06,-3.89 11.56,-2.25 16.15,5.10 C12.24,3.96 5.44,3.07 0,0Z"/><path transform="translate(-174.1,-60.2) rotate(-149.9)" d="M0,0 C4.05,-4.27 15.30,-2.48 21.38,6.75 C16.20,4.72 7.20,3.38 0,0Z"/><path transform="translate(-173.1,-65.1) rotate(-15.5) scale(1,-1)" d="M0,0 C3.06,-3.89 11.56,-2.25 16.15,5.10 C12.24,3.96 5.44,3.07 0,0Z"/><path transform="translate(-171.3,-72.5) rotate(-148.5)" d="M0,0 C4.05,-4.27 15.30,-2.48 21.38,6.75 C16.20,4.72 7.20,3.38 0,0Z"/><path transform="translate(-170.1,-77.3) rotate(-13.2) scale(1,-1)" d="M0,0 C3.06,-3.89 11.56,-2.25 16.15,5.10 C12.24,3.96 5.44,3.07 0,0Z"/><path transform="translate(-168.1,-84.3) rotate(-144.1)" d="M0,0 C4.05,-4.27 15.30,-2.48 21.38,6.75 C16.20,4.72 7.20,3.38 0,0Z"/><path transform="translate(-166.4,-89.0) rotate(-7.6) scale(1,-1)" d="M0,0 C3.06,-3.89 11.56,-2.25 16.15,5.10 C12.24,3.96 5.44,3.07 0,0Z"/><path transform="translate(-163.8,-95.4) rotate(-137.8)" d="M0,0 C3.99,-4.21 15.07,-2.44 21.05,6.65 C15.95,4.65 7.09,3.32 0,0Z"/><path transform="translate(-161.7,-99.9) rotate(-1.3) scale(1,-1)" d="M0,0 C3.01,-3.84 11.38,-2.22 15.90,5.02 C12.05,3.89 5.36,3.03 0,0Z"/><path transform="translate(-158.7,-105.6) rotate(-133.6)" d="M0,0 C3.73,-3.94 14.10,-2.28 19.70,6.22 C14.93,4.36 6.64,3.11 0,0Z"/><path transform="translate(-156.3,-110.0) rotate(1.6) scale(1,-1)" d="M0,0 C2.82,-3.59 10.66,-2.08 14.89,4.70 C11.28,3.65 5.01,2.83 0,0Z"/><path transform="translate(-153.2,-115.4) rotate(-131.8)" d="M0,0 C3.49,-3.68 13.17,-2.13 18.40,5.81 C13.94,4.07 6.20,2.90 0,0Z"/><path transform="translate(-150.7,-119.7) rotate(2.2) scale(1,-1)" d="M0,0 C2.63,-3.35 9.95,-1.94 13.90,4.39 C10.53,3.40 4.68,2.65 0,0Z"/><path transform="translate(-147.7,-124.7) rotate(-130.9)" d="M0,0 C3.25,-3.43 12.26,-1.98 17.13,5.41 C12.98,3.79 5.77,2.70 0,0Z"/><path transform="translate(-145.1,-129.0) rotate(4.2) scale(1,-1)" d="M0,0 C2.45,-3.12 9.26,-1.81 12.94,4.09 C9.81,3.17 4.36,2.46 0,0Z"/><path transform="translate(-142.1,-133.6) rotate(-129.0)" d="M0,0 C3.01,-3.18 11.38,-1.84 15.90,5.02 C12.05,3.51 5.36,2.51 0,0Z"/><path transform="translate(-139.4,-137.8) rotate(5.4) scale(1,-1)" d="M0,0 C2.28,-2.90 8.60,-1.68 12.01,3.79 C9.10,2.94 4.05,2.29 0,0Z"/><path transform="translate(-134.7,-144.9) rotate(-53.3)" d="M-2,0 C3,-6 12,-5 24,2 C15,4 6,5 -2,0Z"/><path transform="translate(-134.7,-144.9) rotate(-119.3)" d="M0,0 C2.34,-3.80 8.84,-2.20 12.35,3.90 C9.36,3.50 4.16,3.00 0,0Z"/><path transform="translate(-134.7,-144.9) rotate(4.7) scale(1,-1)" d="M0,0 C2.34,-3.80 8.84,-2.20 12.35,3.90 C9.36,3.50 4.16,3.00 0,0Z"/></g></g>
<path id="ring" d="M-120.13,45.63 A128.5,128.5 0 1 1 120.13,-45.63 A128.5,128.5 0 1 1 -120.13,45.63" fill="none"/>
<text font-family="Liberation Sans, sans-serif" font-weight="bold" font-size="35.5" fill="#231f20"><textPath href="#ring" textLength="798.4" lengthAdjust="spacing">Department Vanuatu Meteorology and Geo-Hazards</textPath></text>
<circle r="114.6" fill="#e8901c" stroke="#5a3410" stroke-width="0.8"/>
<circle r="107.5" fill="#c87a1a"/>
<circle r="105.5" fill="#a3581a"/>
<circle r="102.5" fill="#5e3313"/>
<circle r="97.5" fill="#8a4f18"/>
<circle r="96" fill="#1ba8e8"/>
<path d="M0,0 L96.0,0.0 M0,0 L67.9,67.9 M0,0 L0.0,96.0 M0,0 L-67.9,67.9 M0,0 L-96.0,0.0 M0,0 L-67.9,-67.9 M0,0 L-0.0,-96.0 M0,0 L67.9,-67.9" stroke="#6fd0f5" stroke-width="0.8" fill="none"/>
<ellipse cx="8.8" cy="-7.1" rx="78.5" ry="49" transform="rotate(7 8.8 -7.1)" fill="#fff200" stroke="#1a5a2a" stroke-width="0.6"/>
<path d="M-81.5,49.5 C-80.8,48.2 -79.4,44.6 -77.3,42.0 C-75.2,39.3 -72.3,35.8 -69.0,33.7 C-65.7,31.5 -61.5,30.1 -57.4,29.0 C-53.2,28.0 -47.7,28.5 -44.1,27.3 C-40.5,26.2 -39.1,23.7 -35.7,22.4 C-32.4,21.0 -27.4,20.2 -24.1,19.0 C-20.8,17.9 -16.2,17.7 -15.8,15.4 C-15.4,13.1 -20.8,9.0 -21.6,5.4 C-22.4,1.8 -22.0,-2.7 -20.4,-6.2 C-18.9,-9.8 -15.7,-13.2 -12.5,-15.9 C-9.2,-18.5 -1.9,-19.2 -0.8,-22.0 C0.3,-24.9 -4.6,-29.1 -5.8,-32.8 C-7.1,-36.6 -8.6,-40.6 -8.3,-44.5 C-8.0,-48.4 -6.5,-52.5 -4.2,-56.1 C-1.8,-59.7 2.2,-63.5 5.8,-66.1 C9.4,-68.7 13.3,-70.5 17.5,-71.9 C21.6,-73.3 26.3,-74.2 30.8,-74.4 C35.2,-74.6 39.9,-74.3 44.1,-73.2 C48.2,-72.1 52.6,-70.3 55.7,-67.7 C58.7,-65.2 61.1,-61.1 62.3,-57.8 C63.6,-54.4 64.0,-51.2 63.2,-47.8 C62.3,-44.4 56.7,-40.0 57.4,-37.5 C58.0,-35.0 64.0,-35.3 67.3,-32.8 C70.7,-30.4 75.1,-26.5 77.3,-22.9 C79.5,-19.3 80.9,-15.4 80.6,-11.2 C80.4,-7.1 78.1,-1.3 75.6,2.1 C73.2,5.5 69.0,7.4 65.7,9.1 C62.3,10.7 57.1,10.4 55.7,12.1 C54.3,13.7 57.9,17.0 57.4,18.7 C56.9,20.4 52.7,21.0 52.7,22.4 C52.7,23.7 56.9,25.3 57.4,27.0 C57.9,28.8 57.1,31.4 55.7,32.8 C54.3,34.2 50.6,33.8 49.0,35.3 C47.5,36.9 47.7,39.6 46.6,42.0 C45.4,44.3 43.1,48.2 42.4,49.5 Z" fill="#fff" stroke="#231f20" stroke-width="3.2" stroke-linejoin="round"/>
<polygon points="-81.5,49.5 43.2,49.5 44.1,52.0 -82.3,51.3" fill="#231f20"/>
<polygon points="0.8,50.3 44.1,50.6 28.3,61.9 25.8,74.4 14.1,65.3" fill="#231f20" stroke="#231f20" stroke-width="1"/>
<path d="M-69.8,45.6 C-69.1,44.5 -68.0,40.9 -65.7,39.0 C-63.3,37.0 -59.6,35.0 -55.7,34.0 C-51.8,33.0 -46.3,34.0 -42.4,33.0 C-38.5,32.0 -36.3,29.5 -32.4,28.2 C-28.5,26.8 -23.1,26.1 -19.1,24.9 C-15.2,23.6 -9.4,23.1 -8.8,20.7 C-8.2,18.3 -14.5,14.0 -15.5,10.4 C-16.4,6.7 -16.0,2.3 -14.6,-1.2 C-13.2,-4.8 -10.6,-8.3 -7.1,-10.9 C-3.7,-13.5 1.7,-15.5 5.8,-16.7 C9.9,-17.9 14.4,-17.4 17.5,-17.9 C20.5,-18.3 23.3,-18.4 24.1,-19.5 C24.9,-20.6 23.8,-22.6 22.4,-24.5 C21.1,-26.5 16.9,-29.0 16.1,-31.2 C15.4,-33.4 16.2,-35.9 17.8,-37.8 C19.4,-39.8 22.8,-41.7 25.8,-42.8 C28.8,-43.9 32.7,-44.7 35.7,-44.5 C38.8,-44.2 41.8,-42.3 44.1,-41.1 C46.3,-40.0 49.5,-39.2 49.0,-37.8 C48.5,-36.4 42.7,-34.5 41.1,-32.8 C39.5,-31.2 38.1,-29.3 39.4,-27.8 C40.7,-26.4 45.8,-25.9 49.0,-24.2 C52.3,-22.5 56.7,-20.3 59.0,-17.5 C61.4,-14.8 63.2,-11.2 63.2,-7.9 C63.2,-4.6 61.1,-0.4 59.0,2.1 C56.9,4.6 52.9,5.7 50.7,7.1 C48.5,8.5 46.6,8.5 46.1,10.4 C45.6,12.3 49.4,16.2 47.7,18.7 C46.1,21.2 38.6,24.5 36.1,25.4 C33.5,26.2 33.9,24.2 32.4,23.7 C31.0,23.1 29.9,22.5 27.4,22.0 C24.9,21.5 20.2,20.4 17.5,20.7 C14.7,21.0 12.7,22.4 11.1,23.7 C9.6,24.9 1.2,26.9 8.3,28.2 C15.5,29.4 47.4,30.3 54.0,31.2 C60.7,32.1 49.6,32.1 48.2,33.7 C46.8,35.2 47.0,38.2 45.7,40.3 C44.5,42.4 41.6,45.3 40.7,46.3 Z" fill="#231f20"/>
<path d="M0.8,-23.7 C-1.4,-25.4 -0.6,-31.0 -0.8,-34.5 C-1.1,-38.0 -1.6,-40.9 -0.5,-44.5 C0.6,-48.0 2.8,-52.8 5.8,-55.8 C8.8,-58.8 11.9,-60.7 17.5,-62.4 C23.0,-64.1 36.6,-66.6 39.1,-66.1 C41.6,-65.5 34.2,-62.2 32.4,-59.1 C30.6,-56.1 30.2,-50.6 28.3,-47.8 C26.3,-45.0 23.1,-44.4 20.8,-42.5 C18.5,-40.5 15.8,-39.2 14.5,-36.2 C13.1,-33.2 15.1,-26.6 12.8,-24.5 C10.5,-22.4 3.1,-22.0 0.8,-23.7Z" fill="#231f20"/>
<polygon points="8.3,27.8 54.9,30.7 50.7,33.7 46.6,41.1 41.6,47.0 -15.8,46.3 -15.8,28.7" fill="#231f20"/>
<path d="M-69.3,47.6 L41.1,49.0" stroke="#fff" stroke-width="1.2"/>
<polygon points="-12.8,56.3 -11.4,60.3 -7.1,60.4 -10.5,63.0 -9.3,67.1 -12.8,64.7 -16.3,67.1 -15.1,63.0 -18.5,60.4 -14.2,60.3" fill="#fff"/>
<polygon points="7.8,67.1 8.9,70.4 12.4,70.4 9.6,72.5 10.6,75.8 7.8,73.8 5.0,75.8 6.0,72.5 3.2,70.4 6.7,70.4" fill="#fff"/>
<polygon points="-29.1,73.7 -27.3,79.0 -21.7,79.1 -26.1,82.5 -24.5,87.9 -29.1,84.7 -33.7,87.9 -32.1,82.5 -36.5,79.1 -30.9,79.0" fill="#fff"/>
<polygon points="26.1,75.7 27.2,79.0 30.7,79.1 27.9,81.1 28.9,84.4 26.1,82.5 23.3,84.4 24.3,81.1 21.5,79.1 25.0,79.0" fill="#fff"/>
<polygon points="37.1,57.6 38.5,61.6 42.8,61.7 39.4,64.3 40.6,68.4 37.1,66.0 33.5,68.4 34.8,64.3 31.4,61.7 35.7,61.6" fill="#fff"/>
<polygon points="47.0,67.9 48.6,72.3 53.2,72.4 49.5,75.2 50.9,79.7 47.0,77.0 43.2,79.7 44.6,75.2 40.9,72.4 45.5,72.3" fill="#fff"/>
</g>
<rect x="255" y="1588" width="373.5" height="1262" fill="#fff" fill-opacity="0.6"/>
<rect x="279.3" y="1765.50" width="53.40" height="93.89" fill="#001496"/>
<rect x="279.3" y="1858.79" width="53.40" height="93.89" fill="#4891d0"/>
<rect x="279.3" y="1952.08" width="53.40" height="93.89" fill="#a4e0e8"/>
<rect x="279.3" y="2045.37" width="53.40" height="93.89" fill="#22ac8e"/>
<rect x="279.3" y="2138.66" width="53.40" height="93.89" fill="#007c22"/>
<rect x="279.3" y="2231.95" width="53.40" height="93.89" fill="#6ea000"/>
<rect x="279.3" y="2325.24" width="53.40" height="93.89" fill="#bfee24"/>
<rect x="279.3" y="2418.53" width="53.40" height="93.89" fill="#fdee5a"/>
<rect x="279.3" y="2511.82" width="53.40" height="93.89" fill="#fb9c05"/>
<rect x="279.3" y="2605.11" width="53.40" height="93.89" fill="#ff560b"/>
<polygon points="279.3,1765.80 306.00,1672.51 332.7,1765.80" fill="#4b006e"/>
<polygon points="279.3,2698.70 306.00,2791.99 332.7,2698.70" fill="#ffc0c0"/>
<polygon points="279.3,1765.80 306.00,1672.51 332.7,1765.80 332.7,2698.70 306.00,2791.99 279.3,2698.70" fill="none" stroke="#000" stroke-width="3.3" stroke-linejoin="round"/>
<rect x="232.6" y="2936.2" width="878.9" height="416" rx="41" ry="41" fill="#fff" stroke="#000" stroke-width="1.3"/>
<circle cx="693.5" cy="3217.4" r="30.6" fill="url(#ng)"/>
<g clip-path="url(#nc)" fill="none" stroke="#fff" stroke-linecap="round">
<path d="M693.1,3202.8 C686.1,3199.1 675.5,3202.5 675.5,3210.6 C675.5,3217.4 682.0,3222.2 689.4,3220.4 C696.9,3218.5 701.6,3214.7 703.7,3209.3" stroke-width="6"/>
<path d="M680.1,3245.9 C680.6,3233.7 693.5,3225.5 703.7,3220.4 C711.8,3216.3 717.9,3210.6 724.7,3208.2 L724.8,3210.6 C719.2,3213.6 713.8,3219.4 707.1,3224.5 C698.3,3230.3 690.8,3235.7 688.5,3247.9 Z" fill="#fff" stroke="none"/>
<path d="M675.5,3192.8 C684.7,3186.9 699.6,3190.3 703.4,3201.2 C704.8,3205.5 703.9,3209.6 701.6,3214.0" stroke-width="3.2"/>
<path d="M688.8,3186.3 C701.0,3188.3 709.1,3197.1 715.9,3207.3" stroke-width="2.8"/>
<path d="M717.9,3214.7 C719.9,3221.5 719.9,3228.3 717.2,3235.0" stroke-width="1.6"/>
</g>
<path d="M184.6 3403 V107.8 M184 108.4 H2408 " stroke="#000" stroke-width="1.3" fill="none"/>
<path d="M2407 107.8 V3403 M184 3402 H2408" stroke="#000" stroke-width="2" fill="none"/>
</svg>
<div class="t" style="left:790.27px;top:39.45px;font-size:52.50px;line-height:52.50px;transform:scaleX(1.0419);color:#000;">Tafea: Mean La Niña Dry Season Rainfall</div>
<div class="t" style="left:25.38px;top:524.95px;font-size:44.00px;line-height:44.00px;transform:scaleX(1.0510);color:#000;">18.6°S</div>
<div class="t" style="left:25.38px;top:976.95px;font-size:44.00px;line-height:44.00px;transform:scaleX(1.0510);color:#000;">18.9°S</div>
<div class="t" style="left:25.38px;top:1428.95px;font-size:44.00px;line-height:44.00px;transform:scaleX(1.0510);color:#000;">19.2°S</div>
<div class="t" style="left:25.38px;top:1880.95px;font-size:44.00px;line-height:44.00px;transform:scaleX(1.0510);color:#000;">19.5°S</div>
<div class="t" style="left:25.38px;top:2332.95px;font-size:44.00px;line-height:44.00px;transform:scaleX(1.0510);color:#000;">19.8°S</div>
<div class="t" style="left:26.59px;top:2784.95px;font-size:44.00px;line-height:44.00px;transform:scaleX(1.0417);color:#000;">20.1°S</div>
<div class="t" style="left:26.59px;top:3236.95px;font-size:44.00px;line-height:44.00px;transform:scaleX(1.0417);color:#000;">20.4°S</div>
<div class="t" style="left:372.84px;top:3415.85px;font-size:44.00px;line-height:44.00px;transform:scaleX(1.0485);color:#000;">169°E</div>
<div class="t" style="left:641.83px;top:3415.85px;font-size:44.00px;line-height:44.00px;transform:scaleX(1.0540);color:#000;">169.2°E</div>
<div class="t" style="left:930.50px;top:3415.85px;font-size:44.00px;line-height:44.00px;transform:scaleX(1.0540);color:#000;">169.4°E</div>
<div class="t" style="left:1219.17px;top:3415.85px;font-size:44.00px;line-height:44.00px;transform:scaleX(1.0540);color:#000;">169.6°E</div>
<div class="t" style="left:1507.84px;top:3415.85px;font-size:44.00px;line-height:44.00px;transform:scaleX(1.0540);color:#000;">169.8°E</div>
<div class="t" style="left:1816.17px;top:3415.85px;font-size:44.00px;line-height:44.00px;transform:scaleX(1.0485);color:#000;">170°E</div>
<div class="t" style="left:2085.17px;top:3415.85px;font-size:44.00px;line-height:44.00px;transform:scaleX(1.0540);color:#000;">170.2°E</div>
<div class="t" style="left:258.50px;top:1603.55px;font-size:52.50px;line-height:52.50px;transform:scaleX(1.0904);color:#000;">mm</div>
<div class="t" style="left:347.79px;top:1744.15px;font-size:44.00px;line-height:44.00px;transform:scaleX(1.0621);color:#000;">3,000</div>
<div class="t" style="left:347.09px;top:1837.44px;font-size:44.00px;line-height:44.00px;transform:scaleX(1.0687);color:#000;">2,500</div>
<div class="t" style="left:347.09px;top:1930.73px;font-size:44.00px;line-height:44.00px;transform:scaleX(1.0687);color:#000;">2,250</div>
<div class="t" style="left:347.09px;top:2024.02px;font-size:44.00px;line-height:44.00px;transform:scaleX(1.0687);color:#000;">2,000</div>
<div class="t" style="left:347.41px;top:2117.31px;font-size:44.00px;line-height:44.00px;transform:scaleX(1.0657);color:#000;">1,750</div>
<div class="t" style="left:347.41px;top:2210.60px;font-size:44.00px;line-height:44.00px;transform:scaleX(1.0657);color:#000;">1,500</div>
<div class="t" style="left:347.41px;top:2303.89px;font-size:44.00px;line-height:44.00px;transform:scaleX(1.0657);color:#000;">1,250</div>
<div class="t" style="left:347.41px;top:2397.18px;font-size:44.00px;line-height:44.00px;transform:scaleX(1.0657);color:#000;">1,000</div>
<div class="t" style="left:347.44px;top:2490.47px;font-size:44.00px;line-height:44.00px;transform:scaleX(1.0563);color:#000;">750</div>
<div class="t" style="left:347.76px;top:2583.76px;font-size:44.00px;line-height:44.00px;transform:scaleX(1.0517);color:#000;">500</div>
<div class="t" style="left:347.10px;top:2677.05px;font-size:44.00px;line-height:44.00px;transform:scaleX(1.0609);color:#000;">250</div>
<div class="t" style="left:272.36px;top:2973.80px;font-size:35.20px;line-height:35.20px;transform:scaleX(1.0873);color:#000;">Based on all currently available rainfall</div>
<div class="t" style="left:274.43px;top:3011.70px;font-size:35.20px;line-height:35.20px;transform:scaleX(1.0959);color:#000;">station data for the period 1951-2022.</div>
<div class="t" style="left:273.40px;top:3083.75px;font-size:26.40px;line-height:26.40px;transform:scaleX(0.9702);color:#000;">Dry season: May - October</div>
<div class="t" style="left:273.49px;top:3132.65px;font-size:26.40px;line-height:26.40px;transform:scaleX(0.9797);color:#000;">Copyright Vanuatu Meteorology and Geo-Hazards Department, 2023.</div>
<div class="t" style="left:274.23px;top:3201.95px;font-size:26.40px;line-height:26.40px;transform:scaleX(0.9547);color:#000;">Technical production by NIWA</div>
<div class="t" style="left:272.84px;top:3266.07px;font-size:22.00px;line-height:22.00px;transform:scaleX(0.9659);color:#000;">Implemented by Secretariat of the Pacific Regional Environment Programme.</div>
<div class="t" style="left:273.08px;top:3287.77px;font-size:22.00px;line-height:22.00px;transform:scaleX(0.9535);color:#000;">Funded by the Green Climate Fund.</div>
<div class="t" style="left:734.08px;top:3192.63px;font-size:35.40px;line-height:35.40px;transform:scaleX(1.0233);color:#0b2d6b;font-weight:bold;-webkit-text-stroke:1.6px #0b2d6b;">NIWA</div>
<div class="t" style="left:736.71px;top:3229.17px;font-size:9.60px;line-height:9.60px;transform:scaleX(0.8616);color:#0b2d6b;">Taihoro Nukurangi</div>
</body></html>
